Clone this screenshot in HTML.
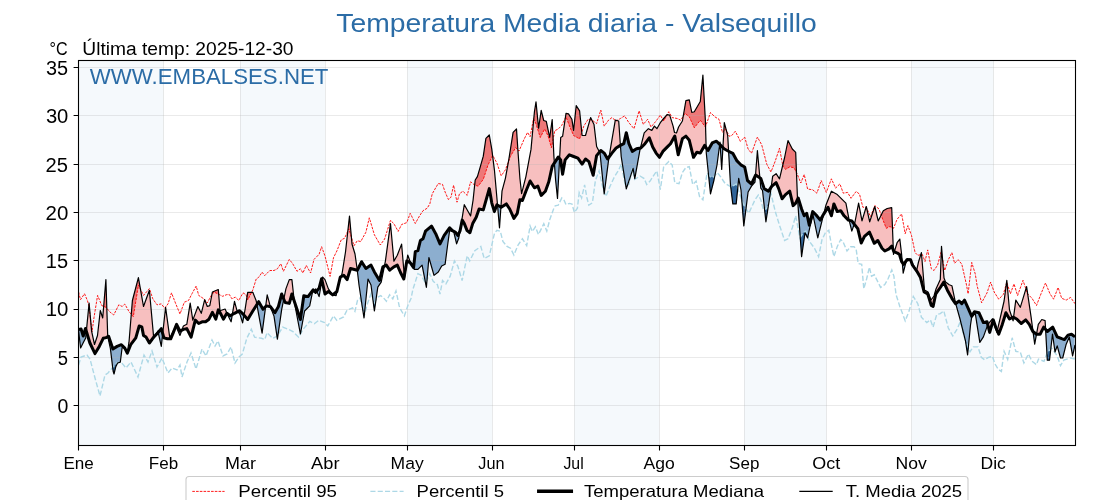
<!DOCTYPE html>
<html><head><meta charset="utf-8"><title>Temperatura Media diaria - Valsequillo</title><style>html,body{margin:0;padding:0;background:#fff;}body{width:1120px;height:500px;overflow:hidden;font-family:"Liberation Sans",sans-serif;}svg{display:block;will-change:transform;}</style></head><body>
<svg width="1120" height="500" viewBox="0 0 1120 500">
<rect width="1120" height="500" fill="#fff"/>
<rect x="78.6" y="60.5" width="84.9" height="385.0" fill="#f5f9fc"/>
<rect x="240.2" y="60.5" width="84.9" height="385.0" fill="#f5f9fc"/>
<rect x="407.3" y="60.5" width="84.9" height="385.0" fill="#f5f9fc"/>
<rect x="574.4" y="60.5" width="84.9" height="385.0" fill="#f5f9fc"/>
<rect x="744.2" y="60.5" width="82.2" height="385.0" fill="#f5f9fc"/>
<rect x="911.3" y="60.5" width="82.2" height="385.0" fill="#f5f9fc"/>
<path d="M86.1,330.5 86.6,328.7 87.1,323.6 87.6,318.5 88.1,313.3 88.6,308.2 89.1,303.1 89.6,308.7 90.1,314.3 90.6,319.9 91.1,325.5 91.6,331.1 92.1,333.4 92.6,335.7 93.1,338 93.6,340.3 94.1,342.7 94.6,344.2 95.1,342.7 95.6,341.2 96.1,339.7 96.6,338.2 97.1,336.7 97.6,334.6 98.1,330.1 98.6,325.7 99.1,321.2 99.6,316.8 100.1,312.3 100.6,311.4 101.1,313 101.6,314.6 102.1,316.1 102.6,317.7 103.1,313.2 103.6,307.2 104.1,301.2 104.6,295.1 105.1,289.1 105.6,283.1 106.1,285.8 106.6,301.5 107.1,317.2 107.6,332.9 108.1,336.5 L108.1,336.5 107.6,336.8 107.1,337 106.6,337.3 106.1,337.6 105.6,337.7 105.1,337.8 104.6,338 104.1,338.1 103.6,338.2 103.1,338.5 102.6,339.5 102.1,340.6 101.6,341.6 101.1,342.7 100.6,343.7 100.1,344.7 99.6,345.8 99.1,346.7 98.6,347.6 98.1,348.4 97.6,349.2 97.1,350.1 96.6,350.9 96.1,351.8 95.6,352.6 95.1,353.4 94.6,352.8 94.1,351.7 93.6,350.7 93.1,349.7 92.6,348.6 92.1,347.6 91.6,346.5 91.1,345.5 90.6,344.5 90.1,343.4 89.6,342 89.1,340.4 88.6,338.7 88.1,337.1 87.6,335.4 87.1,333.8 86.6,332.1 86.1,330.5ZM125.6,349.7 126.1,350.6 126.6,351.3 127.1,352.1 127.6,350.6 128.1,347.6 128.6,344.6 129.1,341 129.6,334.8 130.1,328.7 130.6,322.6 131.1,316.4 131.6,310.3 132.1,304.2 132.6,299.7 133.1,297.8 133.6,295.9 134.1,294 134.6,292.1 135.1,290.2 135.6,288.3 136.1,286.4 136.6,284.5 137.1,282.6 137.6,280.7 138.1,278.7 138.6,278.7 139.1,281.6 139.6,284.4 140.1,287.2 140.6,290.1 141.1,292.9 141.6,295.7 142.1,298.6 142.6,301.4 143.1,304.2 143.6,306.2 144.1,304.9 144.6,303.5 145.1,302.1 145.6,300.7 146.1,299.4 146.6,298 147.1,296.6 147.6,295.2 148.1,293.9 148.6,292.5 149.1,291.1 149.6,292.5 150.1,298 150.6,303.6 151.1,309.1 151.6,314.7 152.1,320.2 152.6,325.7 153.1,331.3 153.6,336.8 154.1,336.7 L154.1,336.7 153.6,337.2 153.1,337.9 152.6,338.6 152.1,339.3 151.6,340 151.1,340.7 150.6,341.4 150.1,342 149.6,342.7 149.1,342.5 148.6,341.6 148.1,340.7 147.6,339.9 147.1,339 146.6,338.1 146.1,337.3 145.6,336.8 145.1,336.5 144.6,336.1 144.1,335.8 143.6,335.5 143.1,333.4 142.6,330.9 142.1,328.4 141.6,326.8 141.1,326.7 140.6,326.5 140.1,326.3 139.6,326.1 139.1,326.3 138.6,328.1 138.1,329.9 137.6,331.6 137.1,333.4 136.6,335.1 136.1,336.9 135.6,338.2 135.1,338.8 134.6,339.5 134.1,340.2 133.6,340.8 133.1,341.5 132.6,342.2 132.1,342.8 131.6,343.5 131.1,344.2 130.6,344.9 130.1,346.2 129.6,347.4 129.1,348.7 128.6,349.9 128.1,351.2 127.6,352.4 127.1,352.8 126.6,351.8 126.1,350.8 125.6,349.7ZM154.6,336.2 155.1,335.6 155.6,334.8 156.1,334 156.6,333.2 157.1,332.4 157.6,331.6 158.1,332 158.6,331.9 L158.6,331.9 158.1,332.6 157.6,333.1 157.1,333.6 156.6,334.1 156.1,334.6 155.6,335.2 155.1,335.7 154.6,336.2ZM162.6,333.2 163.1,330 163.6,325.5 164.1,320.9 164.6,316.4 165.1,311.8 165.6,307.3 166.1,310.9 166.6,314.6 167.1,318.2 167.6,321.9 168.1,325.5 168.6,329.2 169.1,332.8 169.6,336.4 170.1,337.3 170.6,336.3 171.1,335.3 171.6,334.3 172.1,333.3 172.6,332.3 173.1,331.4 173.6,330.4 174.1,329.4 174.6,328.4 175.1,327.4 175.6,326.4 176.1,325.6 L176.1,325.6 175.6,326.8 175.1,328.1 174.6,329.3 174.1,330.6 173.6,331.8 173.1,333 172.6,334.2 172.1,335.4 171.6,336.6 171.1,337.8 170.6,338.8 170.1,338.8 169.6,338.8 169.1,338.8 168.6,338.8 168.1,338.8 167.6,338.8 167.1,338.7 166.6,338.6 166.1,338.5 165.6,338.3 165.1,338.2 164.6,338.1 164.1,338 163.6,336.8 163.1,335 162.6,333.2ZM181.6,330.3 182.1,329.6 182.6,328.2 183.1,326.8 183.6,325.9 184.1,325.7 184.6,325.4 185.1,325.2 185.6,324.9 186.1,324.7 186.6,324.4 187.1,322.4 187.6,319.3 188.1,316.2 188.6,313.1 189.1,310 189.6,306.8 190.1,303.7 190.6,305.7 191.1,309 191.6,312.3 192.1,315.5 192.6,318.8 193.1,319.3 193.6,318 194.1,316.6 194.6,315.3 195.1,314 195.6,312.6 196.1,311.3 196.6,310 197.1,308.6 197.6,307.3 198.1,306.9 198.6,307.9 199.1,308.9 199.6,309.9 200.1,310.9 200.6,311.9 201.1,312.9 201.6,312.1 202.1,310.1 202.6,308.1 203.1,306.1 203.6,304.1 204.1,302.1 204.6,300.1 205.1,300.7 205.6,302.1 206.1,303.4 206.6,304.7 207.1,306 207.6,306.4 208.1,306.2 208.6,306 209.1,305.9 209.6,305.7 210.1,304 210.6,301.4 211.1,298.8 211.6,296.2 212.1,293.6 212.6,291.9 213.1,291.7 213.6,291.5 214.1,291.3 214.6,291.1 215.1,290.9 215.6,290.6 216.1,290.4 216.6,290.2 217.1,290 217.6,289.8 218.1,289.6 218.6,293.2 219.1,299.5 219.6,305.7 220.1,310.7 220.6,310.5 221.1,310.3 221.6,310.2 222.1,310 222.6,309.8 223.1,309.7 223.6,309.5 224.1,309.3 224.6,309.2 225.1,309 225.6,310.2 226.1,311.3 226.6,312.5 227.1,313.5 L227.1,313.5 226.6,313.6 226.1,314.5 225.6,315.4 225.1,316.2 224.6,317.1 224.1,318 223.6,318.9 223.1,318.6 222.6,317.6 222.1,316.5 221.6,315.5 221.1,314.5 220.6,313.6 220.1,312.8 219.6,312 219.1,311.2 218.6,310.4 218.1,310.6 217.6,312.5 217.1,314.4 216.6,316.2 216.1,318.1 215.6,318.8 215.1,317.8 214.6,316.8 214.1,315.8 213.6,314.8 213.1,313.8 212.6,312.8 212.1,313 211.6,314 211.1,315 210.6,316 210.1,317 209.6,318 209.1,319 208.6,319.5 208.1,319.9 207.6,320.3 207.1,320.7 206.6,321 206.1,321.4 205.6,321.8 205.1,321.8 204.6,321.8 204.1,321.8 203.6,321.8 203.1,321.8 202.6,321.8 202.1,321.8 201.6,322.1 201.1,322.3 200.6,322.6 200.1,322.8 199.6,323.1 199.1,323.3 198.6,323.4 198.1,322.9 197.6,322.4 197.1,321.9 196.6,321.4 196.1,320.9 195.6,320.4 195.1,320.9 194.6,322.9 194.1,325 193.6,327 193.1,329 192.6,331 192.1,333.1 191.6,335.1 191.1,337.1 190.6,336.1 190.1,335.1 189.6,334.1 189.1,333.1 188.6,332.2 188.1,331.2 187.6,330.2 187.1,329.2 186.6,328.6 186.1,328.8 185.6,328.9 185.1,329 184.6,329.1 184.1,329.2 183.6,329.4 183.1,329.6 182.6,329.8 182.1,330.1 181.6,330.3ZM232.1,314.7 232.6,312.8 233.1,309.8 233.6,306.8 234.1,303.8 234.6,301.8 235.1,303.6 235.6,305.5 236.1,307.4 236.6,309.2 237.1,310.8 237.6,311.4 238.1,311.5 L238.1,311.5 237.6,311.7 237.1,312 236.6,312.2 236.1,312.5 235.6,312.7 235.1,313 234.6,313.2 234.1,313.5 233.6,313.8 233.1,314.1 232.6,314.4 232.1,314.7ZM243.6,314.6 244.1,314.7 244.6,312 245.1,309.3 245.6,306 246.1,302.8 246.6,299.5 247.1,296.2 247.6,293 248.1,292.3 248.6,292.3 249.1,292.3 249.6,292.3 250.1,292.3 250.6,292.3 251.1,292.3 251.6,292.3 252.1,292.3 252.6,292.3 253.1,293 253.6,294.3 254.1,295.6 254.6,296.8 255.1,298.1 255.6,299.3 256.1,300.6 256.6,303 257.1,304.2 L257.1,304.2 256.6,305 256.1,305.8 255.6,306.6 255.1,307.4 254.6,308.2 254.1,309 253.6,309.7 253.1,310.5 252.6,311.3 252.1,312.2 251.6,313 251.1,313.8 250.6,314.7 250.1,315.5 249.6,316.3 249.1,317.2 248.6,318 248.1,318.8 247.6,319.4 247.1,318.8 246.6,318.2 246.1,317.6 245.6,317 245.1,316.4 244.6,315.8 244.1,315.2 243.6,314.6ZM265.6,306.7 266.1,303.1 266.6,299.4 267.1,295.6 267.6,296.4 268.1,298.3 268.6,300.1 269.1,302 269.6,303.9 270.1,305.7 270.6,306.8 L270.6,306.8 270.1,306.7 269.6,306.6 269.1,306.5 268.6,306.4 268.1,306.3 267.6,306.2 267.1,306.1 266.6,305.9 266.1,306.2 265.6,306.7ZM283.6,298.8 284.1,297.6 284.6,295.2 285.1,292.8 285.6,290.4 286.1,288.4 286.6,287 287.1,285.6 287.6,284.2 288.1,282.9 288.6,281.5 289.1,280.1 289.6,279.6 290.1,279.6 290.6,279.6 291.1,279.6 291.6,279.6 292.1,281.4 292.6,286 293.1,290.6 293.6,295.2 294.1,299.8 294.6,302.1 L294.6,302.1 294.1,300.6 293.6,299.1 293.1,297.6 292.6,296.1 292.1,294.6 291.6,295.1 291.1,296.9 290.6,298.7 290.1,300.5 289.6,302.3 289.1,303.4 288.6,303.2 288.1,303.1 287.6,303 287.1,302.9 286.6,302.8 286.1,302.7 285.6,302.6 285.1,302.5 284.6,301.2 284.1,300 283.6,298.8ZM314.1,290.8 314.6,290.3 315.1,289.7 315.6,289 316.1,289.8 316.6,290.9 317.1,290.6 L317.1,290.6 316.6,291.2 316.1,291.8 315.6,292.2 315.1,291.7 314.6,291.2 314.1,290.8ZM321.6,278.7 322.1,279.3 322.6,277.1 323.1,277.6 323.6,278.1 324.1,278.7 324.6,279.2 325.1,279.9 325.6,281.2 326.1,282.6 326.6,284 327.1,285.3 327.6,286.7 328.1,288.1 328.6,289.2 329.1,289.9 329.6,290.6 330.1,291.3 330.6,292 331.1,292.7 331.6,293.4 332.1,294.1 332.6,294.8 333.1,294.6 L333.1,294.6 332.6,294.8 332.1,294.4 331.6,294 331.1,293.6 330.6,293.2 330.1,292.8 329.6,292.4 329.1,292.1 328.6,291.7 328.1,291.7 327.6,292.1 327.1,292.5 326.6,292.8 326.1,293.2 325.6,293.6 325.1,293.9 324.6,292.2 324.1,290 323.6,287.7 323.1,285.5 322.6,283.2 322.1,280.9 321.6,278.7ZM337.6,288.5 338.1,286.2 338.6,283.8 339.1,282.1 L339.1,282.1 338.6,284.2 338.1,286.4 337.6,288.5ZM341.1,276.6 341.6,275.2 342.1,273.4 342.6,270.2 343.1,267.1 343.6,263.9 344.1,260.8 344.6,257.7 345.1,254.5 345.6,251.1 346.1,246.6 346.6,242.1 347.1,237.6 347.6,233.1 348.1,228.6 348.6,224.1 349.1,219.6 349.6,217.1 350.1,222.7 350.6,228.3 351.1,233.9 351.6,239.5 352.1,244.3 352.6,246 353.1,247.7 353.6,249.3 354.1,251 354.6,252.7 355.1,254.7 355.6,258.2 356.1,261.7 356.6,265.2 357.1,268.9 357.6,269.6 L357.6,269.6 357.1,270.1 356.6,270 356.1,269.9 355.6,269.8 355.1,269.6 354.6,269.5 354.1,269.4 353.6,269.3 353.1,269.1 352.6,269 352.1,268.9 351.6,268.8 351.1,268.6 350.6,268.5 350.1,269.8 349.6,271.4 349.1,273.1 348.6,274.7 348.1,276.3 347.6,278 347.1,279.6 346.6,279 346.1,278.3 345.6,277.7 345.1,277.1 344.6,276.4 344.1,275.8 343.6,275.4 343.1,275.6 342.6,275.9 342.1,276.1 341.6,276.4 341.1,276.6ZM384.1,266.2 384.6,265.1 385.1,262.6 385.6,259.6 386.1,256 386.6,252.3 387.1,248.6 387.6,245 388.1,241.3 388.6,237.6 389.1,234 389.6,230.3 390.1,226.6 390.6,224.8 391.1,230.3 391.6,235.8 392.1,241.3 392.6,246.8 393.1,252.3 393.6,257.8 394.1,260.8 394.6,259.9 395.1,259 395.6,258.1 396.1,257.3 396.6,256.4 397.1,255.5 397.6,254.4 398.1,253.1 398.6,251.8 399.1,250.6 399.6,249.3 400.1,248 400.6,246.7 401.1,245.4 401.6,244.1 402.1,249.9 402.6,255.8 403.1,261.6 403.6,267.5 404.1,273.3 404.6,274.2 L404.6,274.2 404.1,277.2 403.6,278.6 403.1,277.6 402.6,276.6 402.1,275.7 401.6,274.7 401.1,273.7 400.6,272.7 400.1,271.6 399.6,270.4 399.1,269.3 398.6,268.1 398.1,267 397.6,265.8 397.1,265.2 396.6,265.4 396.1,265.7 395.6,265.9 395.1,266.2 394.6,266.4 394.1,266.7 393.6,267 393.1,267.4 392.6,267.9 392.1,268.3 391.6,268.7 391.1,269.1 390.6,269.5 390.1,269.9 389.6,270.1 389.1,269.3 388.6,268.6 388.1,267.8 387.6,267.1 387.1,266.3 386.6,265.6 386.1,265.2 385.6,265.4 385.1,265.7 384.6,265.9 384.1,266.2ZM406.6,262.1 407.1,259.3 407.6,255.7 408.1,256.1 408.6,257.5 409.1,258.8 409.6,260.2 410.1,261.6 410.6,262.9 411.1,264 L411.1,264 410.6,263.2 410.1,262.6 409.6,262.3 409.1,262.1 408.6,261.8 408.1,261.6 407.6,261.3 407.1,261.1 406.6,262.1ZM459.6,231.8 460.1,230.2 460.6,227.4 461.1,224.5 461.6,221.6 462.1,218.4 462.6,215.3 463.1,212.2 463.6,209.1 464.1,205.9 464.6,205.2 465.1,206.1 465.6,207 466.1,207.9 466.6,208.8 467.1,209.7 467.6,210.6 468.1,211.5 468.6,212.4 469.1,213.3 469.6,214.2 470.1,215 470.6,215.9 471.1,212.7 471.6,209.5 472.1,206.4 472.6,203.2 473.1,200 473.6,195.2 474.1,190.5 474.6,185.7 475.1,181 475.6,179.4 476.1,178.6 476.6,177.8 477.1,177.1 477.6,175.9 478.1,174.2 478.6,172.5 479.1,170.8 479.6,169.1 480.1,167.4 480.6,165.6 481.1,163.9 481.6,162.1 482.1,160.4 482.6,158.6 483.1,156.9 483.6,154.1 484.1,150.7 484.6,147.3 485.1,143.9 485.6,140.5 486.1,138.2 486.6,137.7 487.1,137.2 487.6,136.7 488.1,136.2 488.6,135.7 489.1,135.2 489.6,136.7 490.1,139.6 490.6,142.5 491.1,145.4 491.6,148.2 492.1,151.8 492.6,155.7 493.1,159.6 493.6,163.5 494.1,167.4 494.6,172 495.1,177.6 495.6,183.1 496.1,188.9 496.6,194.6 497.1,200.3 497.6,205.2 L497.6,205.2 497.1,204.9 496.6,205.6 496.1,207 495.6,208.3 495.1,209.7 494.6,211.1 494.1,210.6 493.6,209 493.1,207.4 492.6,205.7 492.1,204.1 491.6,201.9 491.1,199 490.6,196.1 490.1,193.2 489.6,190.3 489.1,189.3 488.6,191.1 488.1,192.9 487.6,194.6 487.1,196.4 486.6,198.2 486.1,200 485.6,201.7 485.1,203.5 484.6,205.3 484.1,207.1 483.6,208.8 483.1,209.9 482.6,209.8 482.1,209.6 481.6,209.5 481.1,209.4 480.6,209.3 480.1,209.2 479.6,209.1 479.1,209 478.6,210.4 478.1,211.9 477.6,213.3 477.1,214.7 476.6,216.2 476.1,217.5 475.6,218.4 475.1,219.3 474.6,220.2 474.1,221.1 473.6,222 473.1,222.9 472.6,223.9 472.1,225.5 471.6,227.2 471.1,228.8 470.6,230.4 470.1,232 469.6,232.5 469.1,232.1 468.6,231.7 468.1,231.3 467.6,231 467.1,230.6 466.6,229.3 466.1,228.1 465.6,226.9 465.1,225.6 464.6,224.4 464.1,223.3 463.6,222.4 463.1,221.6 462.6,220.8 462.1,220.6 461.6,223.1 461.1,225.6 460.6,228.1 460.1,230.6 459.6,231.8ZM500.6,207 501.1,204.4 501.6,197.1 502.1,190.8 502.6,188.9 503.1,187 503.6,185.1 504.1,183.2 504.6,181.3 505.1,179.4 505.6,177.2 506.1,174.4 506.6,171.7 507.1,168.9 507.6,166.2 508.1,163.4 508.6,160.7 509.1,157.7 509.6,154.5 510.1,151.4 510.6,148.2 511.1,145.1 511.6,141.9 512.1,138.7 512.6,135.6 513.1,132.4 513.6,131.9 514.1,131.4 514.6,130.9 515.1,130.4 515.6,129.9 516.1,129.4 516.6,130.5 517.1,138 517.6,145.5 518.1,153 518.6,160.1 519.1,167.1 519.6,174.1 520.1,180.1 520.6,184.6 521.1,189.2 521.6,193.7 522.1,191.7 522.6,189.7 523.1,187.7 523.6,185.7 524.1,183.8 524.6,181.8 525.1,179.8 525.6,177.8 526.1,175.5 526.6,172.9 527.1,170.2 527.6,167.5 528.1,164.9 528.6,162.2 529.1,159.5 529.6,156.9 530.1,154.2 530.6,151.5 531.1,148.3 531.6,142.8 532.1,137.3 532.6,131.8 533.1,126.3 533.6,120.8 534.1,115.3 534.6,110.7 535.1,107.5 535.6,104.3 536.1,102.8 536.6,107.9 537.1,113 537.6,118 538.1,123.1 538.6,128.2 539.1,124.8 539.6,121.3 540.1,117.9 540.6,114.4 541.1,111 541.6,111.9 542.1,114 542.6,116 543.1,118.1 543.6,120.1 544.1,120.6 544.6,120.8 545.1,121 545.6,121.2 546.1,121.3 546.6,122.8 547.1,125.2 547.6,127.6 548.1,129.9 548.6,132.3 549.1,134.7 549.6,137 550.1,134.7 550.6,131.1 551.1,127.5 551.6,124 552.1,120.4 552.6,128.3 553.1,139 553.6,149.8 554.1,159 554.6,162.7 L554.6,162.7 554.1,163.5 553.6,164.2 553.1,165 552.6,165.8 552.1,166.9 551.6,169.1 551.1,171.4 550.6,173.6 550.1,175.9 549.6,178.2 549.1,180.4 548.6,182.4 548.1,183.7 547.6,185.1 547.1,186.5 546.6,187.9 546.1,189.3 545.6,190.6 545.1,191.5 544.6,192 544.1,192.5 543.6,193 543.1,193.5 542.6,194 542.1,194.5 541.6,195 541.1,195.1 540.6,193.8 540.1,192.4 539.6,191 539.1,189.7 538.6,188.3 538.1,186.9 537.6,186.2 537.1,186.4 536.6,186.7 536.1,186.9 535.6,187.2 535.1,187.4 534.6,187.7 534.1,187.3 533.6,186.5 533.1,185.7 532.6,185 532.1,184.2 531.6,183.4 531.1,182.6 530.6,181.8 530.1,181 529.6,182.2 529.1,183.4 528.6,184.6 528.1,185.9 527.6,187.1 527.1,188.3 526.6,189.5 526.1,190.7 525.6,192 525.1,193.3 524.6,194.7 524.1,196 523.6,197.3 523.1,198.6 522.6,200 522.1,200.4 521.6,200.2 521.1,200.1 520.6,199.9 520.1,199.8 519.6,201.3 519.1,203.9 518.6,206.5 518.1,209.1 517.6,211.7 517.1,213.6 516.6,214.3 516.1,215.1 515.6,215.8 515.1,216.6 514.6,217.3 514.1,218.1 513.6,217.7 513.1,216.6 512.6,215.5 512.1,214.4 511.6,213.3 511.1,212.1 510.6,211 510.1,209.9 509.6,208.9 509.1,208.1 508.6,207.4 508.1,206.6 507.6,205.9 507.1,205.1 506.6,204.4 506.1,204 505.6,204.4 505.1,204.7 504.6,205 504.1,205.4 503.6,205.7 503.1,206 502.6,206.4 502.1,206.7 501.6,207 501.1,207.2 500.6,207ZM559.1,158.1 559.6,158.5 560.1,148.9 560.6,139.4 561.1,137.2 561.6,136.9 562.1,136.6 562.6,136.3 563.1,132.9 563.6,129.6 564.1,126.2 564.6,122.8 565.1,119.5 565.6,116.1 566.1,113.4 566.6,113.5 567.1,113.6 567.6,113.7 568.1,113.8 568.6,114.1 569.1,114.9 569.6,115.6 570.1,116.4 570.6,117.2 571.1,118 571.6,118.8 572.1,120.6 572.6,123.9 573.1,127.1 573.6,130.4 574.1,125.7 574.6,120.9 575.1,116.2 575.6,111.4 576.1,106.7 576.6,106.3 577.1,107 577.6,107.8 578.1,108.5 578.6,109.3 579.1,110 579.6,110.8 580.1,115.7 580.6,120.7 581.1,125.6 581.6,130.6 582.1,135.5 582.6,135.5 583.1,135.5 583.6,135.5 584.1,135.5 584.6,135.5 585.1,135.5 585.6,135.1 586.1,133.4 586.6,131.6 587.1,129.9 587.6,128.1 588.1,126.4 588.6,124.6 589.1,122.9 589.6,121.1 590.1,119.4 590.6,117.6 591.1,118.6 591.6,119.6 592.1,120.6 592.6,121.6 593.1,122.6 593.6,123.6 594.1,125.3 594.6,129.5 595.1,133.8 595.6,138 596.1,142.3 596.6,146.5 597.1,147.5 597.6,148.4 598.1,149.4 598.6,150.3 599.1,151.3 599.6,152 L599.6,152 599.1,152.6 598.6,153.2 598.1,153.8 597.6,154.4 597.1,155 596.6,155.6 596.1,158.5 595.6,161.4 595.1,164.2 594.6,167.1 594.1,170 593.6,172.9 593.1,174.9 592.6,173.3 592.1,171.7 591.6,170.1 591.1,168.6 590.6,167 590.1,165.4 589.6,163.8 589.1,162.2 588.6,161.4 588.1,161 587.6,160.6 587.1,160.2 586.6,159.8 586.1,159.5 585.6,159.1 585.1,159.6 584.6,160.3 584.1,161.1 583.6,161.8 583.1,162.6 582.6,163.3 582.1,164.1 581.6,163.4 581.1,162.7 580.6,162 580.1,161.3 579.6,160.6 579.1,159.9 578.6,159.2 578.1,158.5 577.6,158.1 577.1,157.9 576.6,157.7 576.1,157.5 575.6,157.3 575.1,157.1 574.6,156.9 574.1,156.7 573.6,156.5 573.1,156.3 572.6,156.1 572.1,155.9 571.6,155.7 571.1,155.5 570.6,155.3 570.1,155.1 569.6,154.9 569.1,155.2 568.6,155.7 568.1,156.3 567.6,156.9 567.1,157.5 566.6,158.1 566.1,158.7 565.6,159.3 565.1,159.9 564.6,162.8 564.1,165.7 563.6,168.5 563.1,171.4 562.6,174.3 562.1,170.5 561.6,166.8 561.1,163 560.6,159.9 560.1,159.3 559.6,158.7 559.1,158.1ZM609.1,156.9 609.6,154 610.1,150.9 610.6,147.8 611.1,144.8 611.6,141.9 612.1,139 612.6,136 613.1,133.1 613.6,130.2 614.1,127.2 614.6,124.3 615.1,121.4 615.6,120.3 616.1,120.4 616.6,120.5 617.1,120.6 617.6,120.7 618.1,120.9 618.6,121 619.1,126.7 619.6,133.8 620.1,140.9 620.6,145.3 L620.6,145.3 620.1,145.6 619.6,145.9 619.1,146.2 618.6,146.5 618.1,146.8 617.6,147.1 617.1,147.4 616.6,147.7 616.1,148 615.6,148.6 615.1,149.2 614.6,149.8 614.1,150.4 613.6,151 613.1,151.6 612.6,152.2 612.1,152.9 611.6,153.5 611.1,154.2 610.6,154.9 610.1,155.6 609.6,156.3 609.1,156.9ZM640.1,148.1 640.6,147.3 641.1,145.3 641.6,143.3 642.1,141.3 642.6,139.3 643.1,137.3 643.6,135.3 644.1,133.3 644.6,132.5 645.1,132 645.6,131.5 646.1,131 646.6,130.5 647.1,130 647.6,129.5 648.1,129 648.6,128.8 649.1,129.1 649.6,129.3 650.1,129.6 650.6,129.8 651.1,130.1 651.6,130.3 652.1,129.9 652.6,129.1 653.1,128.2 653.6,127.4 654.1,126.6 654.6,126.3 655.1,126.8 655.6,127.3 656.1,127.9 656.6,128.4 657.1,128.3 657.6,127.5 658.1,126.6 658.6,125.7 659.1,124.8 659.6,123.9 660.1,123.1 660.6,122.3 661.1,121.7 661.6,121.1 662.1,120.5 662.6,119.9 663.1,119.2 663.6,118.6 664.1,118 664.6,117.5 665.1,116.9 665.6,116.3 666.1,115.7 666.6,115.2 667.1,114.6 667.6,114.7 668.1,114.8 668.6,114.9 669.1,115 669.6,115.1 670.1,116.4 670.6,118 671.1,119.6 671.6,121.2 672.1,122.9 672.6,124.5 673.1,126.1 673.6,128.4 674.1,130.7 674.6,132.5 675.1,132.7 675.6,132.8 676.1,132.9 676.6,132.7 677.1,131.3 677.6,129.9 678.1,128.4 678.6,127 679.1,126.2 679.6,125.4 680.1,124.6 680.6,123.8 681.1,123.1 681.6,122.3 682.1,121.5 682.6,119.8 683.1,116.9 683.6,114 684.1,111.1 684.6,108.2 685.1,105.3 685.6,102.3 686.1,100.6 686.6,100.4 687.1,100.3 687.6,100.2 688.1,100.1 688.6,100 689.1,99.8 689.6,101.3 690.1,103.9 690.6,106.4 691.1,108.9 691.6,111.5 692.1,112.4 692.6,112.2 693.1,112.1 693.6,111.9 694.1,111.8 694.6,111.2 695.1,110.3 695.6,109.5 696.1,108.6 696.6,107.8 697.1,106.9 697.6,106.1 698.1,105.2 698.6,104.4 699.1,103.5 699.6,102.7 700.1,101.8 700.6,98.5 701.1,93.4 701.6,88.3 702.1,83.2 702.6,78.1 703.1,78.8 703.6,88 704.1,97.1 704.6,106.3 705.1,115.5 705.6,128.2 706.1,146.1 706.6,148.4 L706.6,148.4 706.1,147.7 705.6,146.9 705.1,146.2 704.6,145.4 704.1,146.3 703.6,147.2 703.1,148.1 702.6,149 702.1,149.9 701.6,150.8 701.1,151.7 700.6,152.6 700.1,153 699.6,152.9 699.1,152.8 698.6,152.7 698.1,152.5 697.6,152.4 697.1,152.3 696.6,152.6 696.1,153.4 695.6,154.1 695.1,154.9 694.6,155.6 694.1,156.4 693.6,157.1 693.1,155.7 692.6,153.7 692.1,151.6 691.6,149.6 691.1,147.6 690.6,145.6 690.1,143.5 689.6,141.5 689.1,140.1 688.6,139.4 688.1,138.8 687.6,138.2 687.1,137.6 686.6,137 686.1,136.3 685.6,136.3 685.1,136.7 684.6,137 684.1,137.4 683.6,137.7 683.1,138.1 682.6,138.5 682.1,139.8 681.6,141.7 681.1,143.6 680.6,145.5 680.1,147.5 679.6,149.4 679.1,151.3 678.6,153.3 678.1,154.2 677.6,151.5 677.1,148.8 676.6,146 676.1,143.3 675.6,140.5 675.1,137.8 674.6,136.5 674.1,137.3 673.6,138.2 673.1,139.1 672.6,140 672.1,140.9 671.6,141.8 671.1,142.6 670.6,143.5 670.1,144.1 669.6,144.6 669.1,145.1 668.6,145.6 668.1,146.1 667.6,146.6 667.1,147.1 666.6,147.6 666.1,148.1 665.6,148.6 665.1,149.1 664.6,149.7 664.1,150.2 663.6,150.7 663.1,151.2 662.6,151.9 662.1,152.8 661.6,153.7 661.1,154.5 660.6,155.4 660.1,156.3 659.6,157.1 659.1,156.8 658.6,156.2 658.1,155.6 657.6,155 657.1,154.3 656.6,153.7 656.1,153.1 655.6,152.2 655.1,151.3 654.6,150.5 654.1,149.6 653.6,148.7 653.1,147.8 652.6,146.8 652.1,145.5 651.6,144.1 651.1,142.7 650.6,141.4 650.1,140 649.6,138.6 649.1,138.1 648.6,138.8 648.1,139.4 647.6,140.1 647.1,140.8 646.6,141.5 646.1,142.2 645.6,142.9 645.1,143.6 644.6,144.1 644.1,144.6 643.6,145.1 643.1,145.6 642.6,146.2 642.1,146.7 641.6,147.2 641.1,147.7 640.6,148 640.1,148.1ZM719.6,144.3 720.1,143.8 720.6,145.3 L720.6,145.3 720.1,144.8 719.6,144.3ZM722.6,147.3 723.1,144.3 723.6,135.3 724.1,126.3 724.6,123.8 725.1,125.7 725.6,127.6 726.1,129.4 726.6,131.3 727.1,133.2 727.6,135 728.1,142.5 728.6,151.3 L728.6,151.3 728.1,151 727.6,150.8 727.1,150.5 726.6,150.2 726.1,149.9 725.6,149.6 725.1,149.4 724.6,149.1 724.1,148.8 723.6,148.3 723.1,147.8 722.6,147.3ZM755.1,176.3 755.6,174.2 756.1,167.7 756.6,161.1 757.1,154.6 757.6,152.9 758.1,158.4 758.6,163.9 759.1,169.4 759.6,174.9 760.1,177.9 L760.1,177.9 759.6,177.6 759.1,177.3 758.6,176.9 758.1,176.6 757.6,176.3 757.1,175.9 756.6,175.6 756.1,175.3 755.6,175.2 755.1,176.3ZM771.1,187.3 771.6,184.2 772.1,180.6 772.6,176.9 773.1,175.9 773.6,175.5 774.1,175.2 774.6,174.8 775.1,174.4 775.6,174.1 776.1,173.7 776.6,174.4 777.1,175.2 777.6,176 778.1,176.7 778.6,177.5 779.1,178.2 779.6,178.4 780.1,176.3 780.6,174.2 781.1,172.1 781.6,170 782.1,167.9 782.6,165.9 783.1,163.8 783.6,161.7 784.1,159.6 784.6,157.5 785.1,155 785.6,152.5 786.1,150 786.6,147.5 787.1,145 787.6,142.5 788.1,140.7 788.6,141.7 789.1,142.7 789.6,143.7 790.1,144.7 790.6,145.6 791.1,146.6 791.6,147.6 792.1,148.6 792.6,149.3 793.1,149.8 793.6,150.3 794.1,150.8 794.6,151.3 795.1,151.8 795.6,152.3 796.1,162.8 796.6,175.8 797.1,188.8 797.6,199.2 L797.6,199.2 797.1,200.2 796.6,201.3 796.1,202.3 795.6,203.2 795.1,203.7 794.6,204.2 794.1,204.6 793.6,205.1 793.1,205.6 792.6,203.5 792.1,201.4 791.6,199.2 791.1,197.1 790.6,195 790.1,192.9 789.6,191.3 789.1,191.7 788.6,192.1 788.1,192.5 787.6,192.9 787.1,193.3 786.6,193.7 786.1,194.1 785.6,194.5 785.1,195.1 784.6,195.7 784.1,196.3 783.6,196.9 783.1,197.6 782.6,198.2 782.1,198.8 781.6,197.3 781.1,195.8 780.6,194.3 780.1,192.8 779.6,191.3 779.1,189.8 778.6,188.4 778.1,187.2 777.6,186.1 777.1,185 776.6,183.8 776.1,182.7 775.6,183.1 775.1,183.5 774.6,183.9 774.1,184.3 773.6,184.7 773.1,185.1 772.6,185.5 772.1,185.9 771.6,186.5 771.1,187.3ZM823.6,214.3 824.1,212.6 824.6,210.6 825.1,208.6 825.6,206.6 826.1,204.7 826.6,203.5 827.1,202.2 827.6,200.9 828.1,199.6 828.6,198.4 829.1,197.1 829.6,195.8 830.1,194.5 830.6,193.2 831.1,192 831.6,191.3 832.1,191.6 832.6,191.9 833.1,192.2 833.6,192.5 834.1,192.8 834.6,193 835.1,193.3 835.6,193.6 836.1,193.9 836.6,194.2 837.1,194.5 837.6,194.9 838.1,195.4 838.6,195.9 839.1,196.4 839.6,196.9 840.1,197.4 840.6,197.9 841.1,198.4 841.6,198.9 842.1,199.3 842.6,199.8 843.1,200.3 843.6,200.8 844.1,201.3 844.6,201.8 845.1,202.3 845.6,202.8 846.1,204.1 846.6,206.8 847.1,209.4 847.6,212 848.1,214.6 848.6,217.2 849.1,219.9 849.6,220.4 L849.6,220.4 849.1,220.3 848.6,220.1 848.1,219.8 847.6,219.3 847.1,218.8 846.6,218.3 846.1,217.8 845.6,217.3 845.1,216.8 844.6,216.3 844.1,215.8 843.6,215.1 843.1,214.3 842.6,213.5 842.1,212.8 841.6,212 841.1,211.3 840.6,210.7 840.1,210.9 839.6,211 839.1,211.1 838.6,211.3 838.1,211.4 837.6,211.5 837.1,211.1 836.6,210 836.1,208.9 835.6,207.8 835.1,206.6 834.6,205.5 834.1,204.4 833.6,205.3 833.1,207.7 832.6,210.1 832.1,212.5 831.6,214.8 831.1,215.1 830.6,213.8 830.1,212.6 829.6,211.3 829.1,210.1 828.6,208.8 828.1,207.6 827.6,207.9 827.1,208.7 826.6,209.5 826.1,210.3 825.6,211.1 825.1,211.9 824.6,212.7 824.1,213.5 823.6,214.3ZM854.1,223.9 854.6,223.1 855.1,221.5 855.6,218.8 856.1,216.2 856.6,213.6 857.1,211 857.6,208.3 858.1,205.7 858.6,203.1 859.1,205.7 859.6,208.3 860.1,211 860.6,213.6 861.1,216.2 861.6,218.8 862.1,220.6 862.6,218.9 863.1,217.2 863.6,215.5 864.1,213.9 864.6,212.2 865.1,210.5 865.6,208.8 866.1,207.2 866.6,207.9 867.1,210.1 867.6,212.4 868.1,214.6 868.6,216.9 869.1,219.1 869.6,221.3 870.1,220.6 870.6,219.1 871.1,217.6 871.6,216.1 872.1,214.6 872.6,213.1 873.1,211.6 873.6,210.1 874.1,208.6 874.6,207.1 875.1,207.8 875.6,209.9 876.1,212 876.6,214.1 877.1,216.2 877.6,218.4 878.1,220.5 878.6,220.1 879.1,219.1 879.6,218.1 880.1,217.1 880.6,216.1 881.1,215.1 881.6,214.1 882.1,213.1 882.6,212.1 883.1,211.1 883.6,210.5 884.1,210.2 884.6,210 885.1,209.7 885.6,209.4 886.1,209.1 886.6,208.8 887.1,208.6 887.6,208.4 888.1,208.3 888.6,208.2 889.1,208.1 889.6,208 890.1,207.9 890.6,207.8 891.1,207.7 891.6,207.6 892.1,218 892.6,231 893.1,244 893.6,250.9 L893.6,250.9 893.1,249.6 892.6,248.2 892.1,246.9 891.6,246.3 891.1,246.8 890.6,247.3 890.1,247.8 889.6,248.3 889.1,248.8 888.6,249.1 888.1,249.3 887.6,249.6 887.1,249.8 886.6,250.1 886.1,250.3 885.6,250.6 885.1,250.8 884.6,250.8 884.1,250.3 883.6,249.8 883.1,249.3 882.6,248.8 882.1,248.3 881.6,247.5 881.1,246.6 880.6,245.6 880.1,244.7 879.6,243.8 879.1,242.9 878.6,242 878.1,241.1 877.6,240.7 877.1,241.1 876.6,241.5 876.1,241.9 875.6,242.3 875.1,242.7 874.6,243.1 874.1,242.8 873.6,241.7 873.1,240.6 872.6,239.4 872.1,238.3 871.6,237.1 871.1,236 870.6,234.8 870.1,233.7 869.6,232.6 869.1,232.4 868.6,232.8 868.1,233.2 867.6,233.6 867.1,234.1 866.6,234.5 866.1,234.9 865.6,235.4 865.1,235.8 864.6,236.2 864.1,237.1 863.6,238.1 863.1,239.1 862.6,240.2 862.1,241.2 861.6,242.2 861.1,242.6 860.6,240.5 860.1,238.3 859.6,236.2 859.1,234.1 858.6,232 858.1,229.9 857.6,228.3 857.1,227.7 856.6,227.1 856.1,226.5 855.6,225.8 855.1,225.2 854.6,224.6 854.1,223.9ZM894.1,251.8 894.6,250.8 895.1,249.2 895.6,247.6 896.1,245.9 896.6,244.3 897.1,242.7 897.6,242 898.1,241.4 898.6,240.7 899.1,240 899.6,239.4 900.1,241.7 900.6,245.9 901.1,250.2 901.6,254.4 902.1,260.3 902.6,262.8 L902.6,262.8 902.1,262.2 901.6,261.5 901.1,259.8 900.6,258.2 900.1,256.5 899.6,254.8 899.1,254.2 898.6,253.9 898.1,253.6 897.6,253.2 897.1,253 896.6,252.8 896.1,252.6 895.6,252.4 895.1,252.2 894.6,252 894.1,251.8ZM909.1,259.6 909.6,259.3 910.1,259.2 910.6,259.7 L910.6,259.7 910.1,259.7 909.6,259.6 909.1,259.6ZM910.6,259.7 911.1,260.9 911.6,261.8 912.1,262.7 912.6,263.6 913.1,264.4 913.6,265.3 914.1,266.2 914.6,267.2 915.1,268.2 915.6,269.2 916.1,270.2 L916.1,270.2 915.6,269.5 915.1,268.8 914.6,268.1 914.1,267.4 913.6,266.7 913.1,266 912.6,265.3 912.1,264.1 911.6,262.6 911.1,261.2 910.6,259.7ZM916.1,270.2 916.6,270.5 917.1,268.3 917.6,266 918.1,263.8 918.6,261.7 919.1,260.1 919.6,258.4 920.1,256.8 920.6,255.2 921.1,253.6 921.6,255 922.1,261 922.6,267.1 923.1,273.1 923.6,279.1 924.1,285.2 924.6,290.1 925.1,290.3 925.6,290.6 926.1,290.9 926.6,291.2 927.1,291.5 927.6,291.8 928.1,292.3 928.6,293.6 929.1,294.9 929.6,296.3 930.1,297.6 930.6,298.9 931.1,299.9 931.6,299.2 932.1,298.5 932.6,297.9 933.1,297.2 933.6,296.5 934.1,295.6 934.6,293.9 935.1,292.1 935.6,290.4 936.1,288.8 936.6,287.7 937.1,286.5 937.6,285.4 938.1,284.3 938.6,283.2 939.1,282.1 939.6,281 940.1,279.8 940.6,271.1 941.1,257.3 941.6,247.6 942.1,253.9 942.6,260.2 943.1,266.6 943.6,272.9 944.1,278.3 944.6,279.5 945.1,280.8 945.6,282.1 946.1,282.5 946.6,282.9 947.1,283.2 947.6,283.6 948.1,284 948.6,284.4 949.1,284.7 949.6,284.9 950.1,285.1 950.6,285.3 951.1,285.4 951.6,285.6 952.1,286.7 952.6,289 953.1,291.4 953.6,293.8 954.1,296.2 954.6,298.5 955.1,300.9 955.6,303.2 956.1,303.2 L956.1,303.2 955.6,303.6 955.1,303.1 954.6,302.4 954.1,301.6 953.6,300.9 953.1,300.1 952.6,299.4 952.1,298.6 951.6,297.8 951.1,296.9 950.6,296 950.1,295.1 949.6,294.2 949.1,293.3 948.6,292.4 948.1,291.5 947.6,290.6 947.1,289.5 946.6,288.4 946.1,287.3 945.6,286.2 945.1,285 944.6,283.9 944.1,282.8 943.6,282.4 943.1,283.2 942.6,284 942.1,284.7 941.6,285.5 941.1,286.3 940.6,287 940.1,287.8 939.6,288.5 939.1,289.2 938.6,289.9 938.1,290.6 937.6,291.3 937.1,292 936.6,292.7 936.1,293.4 935.6,294.7 935.1,297.1 934.6,299.4 934.1,301.7 933.6,304.1 933.1,306.4 932.6,306.1 932.1,305.9 931.6,305.7 931.1,304.9 930.6,303.2 930.1,301.6 929.6,300 929.1,298.4 928.6,296.7 928.1,295.1 927.6,293.8 927.1,293.5 926.6,293.2 926.1,293 925.6,292.8 925.1,292.5 924.6,292.2 924.1,292 923.6,290 923.1,288 922.6,286 922.1,284 921.6,282 921.1,280 920.6,278 920.1,276.9 919.6,276 919.1,275.2 918.6,274.3 918.1,273.4 917.6,272.5 917.1,271.7 916.6,270.9 916.1,270.2ZM987.6,324.1 988.1,324.2 988.6,323.6 989.1,323 989.6,322.4 990.1,321.8 990.6,321.2 991.1,320.6 991.6,320 992.1,319.4 992.6,319.6 993.1,320.6 L993.1,320.6 992.6,322.3 992.1,324.1 991.6,325.8 991.1,327.5 990.6,329.3 990.1,331 989.6,332 989.1,330 988.6,328 988.1,326.1 987.6,324.1ZM997.1,330.5 997.6,329.3 998.1,327.2 998.6,325 999.1,322.8 999.6,320.6 1000.1,318.4 1000.6,316.3 1001.1,314.1 1001.6,311.9 1002.1,309.7 1002.6,307.5 1003.1,305.4 1003.6,303.2 1004.1,301 1004.6,297.2 1005.1,293.3 1005.6,289.5 1006.1,285.7 1006.6,281.8 1007.1,283.6 1007.6,289.1 1008.1,294.6 1008.6,300.1 1009.1,305.6 1009.6,310.3 1010.1,311.8 1010.6,313.3 1011.1,314.8 1011.6,316.3 1012.1,317.7 L1012.1,317.7 1011.6,317.9 1011.1,318.2 1010.6,318.4 1010.1,318.7 1009.6,318.9 1009.1,318.3 1008.6,317.4 1008.1,316.6 1007.6,315.7 1007.1,314.8 1006.6,313.9 1006.1,313.1 1005.6,313.7 1005.1,315.3 1004.6,316.9 1004.1,318.5 1003.6,320.2 1003.1,321.8 1002.6,323.4 1002.1,324.9 1001.6,326.3 1001.1,327.7 1000.6,329 1000.1,330.4 999.6,331.8 999.1,333.1 998.6,334 998.1,332.8 997.6,331.7 997.1,330.5ZM1013.1,317.2 1013.6,317 1014.1,313.1 1014.6,309.3 1015.1,305.5 1015.6,301.6 1016.1,300.6 1016.6,301.4 1017.1,302.2 1017.6,303 1018.1,303.8 1018.6,304.6 1019.1,305.4 1019.6,306.2 1020.1,307 1020.6,306.3 1021.1,304.7 1021.6,303 1022.1,301.4 1022.6,299.7 1023.1,298.1 1023.6,296.5 1024.1,294.8 1024.6,293.2 1025.1,291.5 1025.6,289.9 1026.1,288.2 1026.6,286.6 1027.1,290 1027.6,293.4 1028.1,296.8 1028.6,300.2 1029.1,303.6 1029.6,307 1030.1,310.4 1030.6,313.8 1031.1,317.2 1031.6,320.9 1032.1,324.7 1032.6,328.4 1033.1,331.6 L1033.1,331.6 1032.6,330.9 1032.1,329.9 1031.6,328.9 1031.1,327.9 1030.6,327 1030.1,326 1029.6,325 1029.1,324.1 1028.6,323.5 1028.1,322.9 1027.6,322.3 1027.1,321.6 1026.6,321 1026.1,320.4 1025.6,320 1025.1,320.4 1024.6,320.8 1024.1,321.2 1023.6,321.6 1023.1,322 1022.6,322.4 1022.1,322.8 1021.6,323.2 1021.1,323.4 1020.6,322.9 1020.1,322.4 1019.6,321.9 1019.1,321.4 1018.6,320.9 1018.1,320.4 1017.6,319.9 1017.1,319.4 1016.6,318.9 1016.1,318.7 1015.6,318.4 1015.1,318.2 1014.6,317.9 1014.1,317.7 1013.6,317.4 1013.1,317.2ZM1036.1,333.9 1036.6,333.7 1037.1,331 1037.6,328.2 1038.1,325.5 1038.6,324 1039.1,323.3 1039.6,322.6 1040.1,321.9 1040.6,321.2 1041.1,320.5 1041.6,319.8 1042.1,319.6 1042.6,319.8 1043.1,319.9 1043.6,320.1 1044.1,320.3 1044.6,320.4 1045.1,320.6 1045.6,329.4 L1045.6,329.4 1045.1,328.8 1044.6,328.2 1044.1,327.6 1043.6,327.3 1043.1,328.3 1042.6,329.3 1042.1,330.3 1041.6,331.2 1041.1,332.2 1040.6,333.2 1040.1,334.2 1039.6,334.2 1039.1,334.2 1038.6,334.2 1038.1,334.2 1037.6,334.2 1037.1,334.2 1036.6,334.2 1036.1,333.9Z" fill="rgb(247,191,191)"/>
<path d="M88.6,304.6 89.1,303.1 89.6,308.7 90.1,314.3 90.6,319.9 L90.6,319.9 90.1,315.5 89.6,311.2 89.1,306.9 88.6,304.6ZM103.6,306.3 104.1,301.2 104.6,295.1 105.1,289.1 105.6,283.1 106.1,285.8 106.6,301.5 107.1,308.7 L107.1,308.7 106.6,308 106.1,307.4 105.6,307.1 105.1,306.9 104.6,306.7 104.1,306.5 103.6,306.3ZM131.1,314.1 131.6,310.3 132.1,304.2 132.6,299.7 133.1,297.8 133.6,295.9 134.1,294 134.6,292.1 135.1,290.2 135.6,288.3 136.1,286.4 136.6,284.5 137.1,282.6 137.6,280.7 138.1,278.7 138.6,278.7 139.1,281.6 139.6,284.4 140.1,287.2 140.6,289.4 L140.6,289.4 140.1,288.3 139.6,287.3 139.1,286.2 138.6,285.2 138.1,287.4 137.6,290.4 137.1,293.4 136.6,296.4 136.1,299.4 135.6,302.5 135.1,305.6 134.6,308.7 134.1,311.8 133.6,314.8 133.1,316.5 132.6,315.9 132.1,315.3 131.6,314.7 131.1,314.1ZM211.6,295.1 212.1,293.6 212.6,291.9 213.1,291.7 213.6,291.5 214.1,291.3 214.6,291.1 215.1,290.9 215.6,290.6 216.1,290.4 216.6,290.2 217.1,290 217.6,289.8 218.1,289.6 218.6,293.2 219.1,294.5 L219.1,294.5 218.6,294.3 218.1,294 217.6,293.8 217.1,293.5 216.6,293.3 216.1,293 215.6,292.8 215.1,292.5 214.6,292.3 214.1,292 213.6,292.5 213.1,293.2 212.6,293.8 212.1,294.5 211.6,295.1ZM246.6,296.5 247.1,296.2 247.6,293 248.1,292.3 248.6,292.3 249.1,292.3 249.6,292.3 250.1,292.3 250.6,292.3 251.1,292.3 251.6,292.3 252.1,291.4 L252.1,291.4 251.6,292.4 251.1,293.3 250.6,294.3 250.1,295.3 249.6,296.3 249.1,297.3 248.6,298.2 248.1,299.2 247.6,299.7 247.1,298.1 246.6,296.5ZM347.6,231.5 348.1,228.6 348.6,224.1 349.1,219.6 349.6,217.1 350.1,222.7 350.6,228.3 351.1,233.9 351.6,238 L351.6,238 351.1,236.3 350.6,234.7 350.1,233.1 349.6,231.4 349.1,229.8 348.6,229.2 348.1,230.4 347.6,231.5ZM474.6,185 475.1,181 475.6,179.4 476.1,178.6 476.6,177.8 477.1,177.1 477.6,175.9 478.1,174.2 478.6,172.5 479.1,170.8 479.6,169.1 480.1,167.4 480.6,165.6 481.1,163.9 481.6,162.1 482.1,160.4 482.6,158.6 483.1,156.9 483.6,154.1 484.1,150.7 484.6,147.3 485.1,143.9 485.6,140.5 486.1,138.2 486.6,137.7 487.1,137.2 487.6,136.7 488.1,136.2 488.6,135.7 489.1,135.2 489.6,136.7 490.1,139.6 490.6,142.5 491.1,145.4 491.6,148.2 492.1,151.8 492.6,155.6 L492.6,155.6 492.1,156.6 491.6,157.6 491.1,158.7 490.6,159.7 490.1,160.7 489.6,161.7 489.1,162.8 488.6,163.8 488.1,164.8 487.6,166.2 487.1,167.7 486.6,169.3 486.1,170.8 485.6,172.3 485.1,173.8 484.6,175.3 484.1,176.9 483.6,178.4 483.1,179.6 482.6,180.2 482.1,180.9 481.6,181.6 481.1,182.2 480.6,182.9 480.1,183.6 479.6,184.2 479.1,184.9 478.6,185.6 478.1,186.1 477.6,185.9 477.1,185.8 476.6,185.7 476.1,185.5 475.6,185.4 475.1,185.3 474.6,185ZM508.1,162.6 508.6,160.7 509.1,157.7 509.6,154.5 510.1,151.4 510.6,148.2 511.1,145.1 511.6,141.9 512.1,138.7 512.6,135.6 513.1,132.4 513.6,131.9 514.1,131.4 514.6,130.9 515.1,130.4 515.6,129.9 516.1,129.4 516.6,130.5 517.1,138 517.6,145.5 518.1,150.2 L518.1,150.2 517.6,149.7 517.1,149.2 516.6,148.7 516.1,148.2 515.6,147.7 515.1,148.5 514.6,149.4 514.1,150.2 513.6,151 513.1,151.9 512.6,152.7 512.1,153.5 511.6,154.4 511.1,155.2 510.6,156 510.1,157.3 509.6,158.6 509.1,159.9 508.6,161.3 508.1,162.6ZM533.6,119 534.1,115.3 534.6,110.7 535.1,107.5 535.6,104.3 536.1,102.8 536.6,107.9 537.1,113 537.6,118 538.1,123.1 538.6,128.2 539.1,124.8 539.6,121.3 540.1,117.9 540.6,114.4 541.1,111 541.6,111.9 542.1,114 542.6,116 543.1,118.1 543.6,120.1 544.1,120.6 544.6,120.8 545.1,121 545.6,121.2 546.1,121.3 546.6,122.8 547.1,125.2 547.6,127.6 548.1,129.9 548.6,132.3 549.1,134.7 549.6,137 550.1,134.7 550.6,131.1 551.1,127.5 551.6,124 552.1,120.4 552.6,128.3 553.1,139 553.6,136.7 L553.6,136.7 553.1,139.2 552.6,141.7 552.1,144.2 551.6,146.7 551.1,146.7 550.6,144.9 550.1,143.2 549.6,141.4 549.1,139.7 548.6,137.9 548.1,136.2 547.6,135 547.1,134 546.6,133 546.1,132 545.6,131 545.1,130 544.6,129 544.1,130 543.6,131 543.1,132 542.6,133 542.1,133.9 541.6,134.9 541.1,135.9 540.6,136.9 540.1,136.9 539.6,135.3 539.1,133.7 538.6,132.1 538.1,130.5 537.6,129 537.1,127.4 536.6,125.8 536.1,124.2 535.6,123.1 535.1,122.1 534.6,121 534.1,120 533.6,119ZM565.1,118.6 565.6,116.1 566.1,113.4 566.6,113.5 567.1,113.6 567.6,113.7 568.1,113.8 568.6,114.1 569.1,114.9 569.6,115.6 570.1,116.4 570.6,117.2 571.1,118 571.6,118.8 572.1,120.6 572.6,123.9 573.1,127.1 573.6,130.4 574.1,125.7 574.6,120.9 575.1,116.2 575.6,111.4 576.1,106.7 576.6,106.3 577.1,107 577.6,107.8 578.1,108.5 578.6,109.3 579.1,110 579.6,110.8 580.1,115.7 580.6,120.7 581.1,125.6 581.6,130.6 582.1,131.3 L582.1,131.3 581.6,132.8 581.1,134.3 580.6,135.9 580.1,137.4 579.6,138.9 579.1,138.6 578.6,138.3 578.1,138.1 577.6,137.8 577.1,137.5 576.6,137.2 576.1,136.9 575.6,136.6 575.1,136.3 574.6,136.1 574.1,135.8 573.6,135.5 573.1,134.4 572.6,133.2 572.1,132.1 571.6,131 571.1,129.8 570.6,128.7 570.1,127.5 569.6,126.2 569.1,124.9 568.6,123.6 568.1,122.3 567.6,121 567.1,119.7 566.6,118.4 566.1,117.1 565.6,117.6 565.1,118.6ZM589.6,119.6 590.1,119.4 590.6,117.6 591.1,118.6 591.6,119.6 592.1,120.2 L592.1,120.2 591.6,120.1 591.1,119.9 590.6,119.8 590.1,119.7 589.6,119.6ZM615.1,120.2 615.6,120.3 616.1,120.4 616.6,120.5 617.1,120.4 L617.1,120.4 616.6,120.7 616.1,121 615.6,120.6 615.1,120.2ZM662.6,119.1 663.1,119.2 663.6,118.6 664.1,118 664.6,117.5 665.1,116.9 665.6,116.3 666.1,115.7 666.6,115.2 667.1,114.6 667.6,113.9 L667.6,113.9 667.1,114.8 666.6,115.7 666.1,116.6 665.6,117.5 665.1,118.4 664.6,119.4 664.1,120.3 663.6,120.8 663.1,120 662.6,119.1ZM683.1,116.4 683.6,114 684.1,111.1 684.6,108.2 685.1,105.3 685.6,102.3 686.1,100.6 686.6,100.4 687.1,100.3 687.6,100.2 688.1,100.1 688.6,100 689.1,99.8 689.6,101.3 690.1,103.9 690.6,106.4 691.1,108.9 691.6,111.5 692.1,112.4 692.6,112.2 693.1,112.1 693.6,111.9 694.1,111.8 694.6,111.2 695.1,110.3 695.6,109.5 696.1,108.6 696.6,107.8 697.1,106.9 697.6,106.1 698.1,105.2 698.6,104.4 699.1,103.5 699.6,102.7 700.1,101.8 700.6,98.5 701.1,93.4 701.6,88.3 702.1,83.2 702.6,78.1 703.1,78.8 703.6,88 704.1,97.1 704.6,106.3 705.1,115.5 705.6,126.4 L705.6,126.4 705.1,126.6 704.6,125.9 704.1,125.3 703.6,124.6 703.1,123.9 702.6,123.3 702.1,122.6 701.6,121.9 701.1,121.3 700.6,120.6 700.1,120.5 699.6,121.1 699.1,121.7 698.6,122.4 698.1,123 697.6,123.6 697.1,124.3 696.6,124.9 696.1,125.5 695.6,126.2 695.1,126.8 694.6,127.4 694.1,127.4 693.6,126.3 693.1,125.2 692.6,124.1 692.1,123 691.6,121.9 691.1,120.8 690.6,119.7 690.1,118.6 689.6,117.5 689.1,116.6 688.6,116.2 688.1,115.9 687.6,115.5 687.1,115.1 686.6,114.7 686.1,114.3 685.6,113.9 685.1,113.5 684.6,114 684.1,114.8 683.6,115.6 683.1,116.4ZM723.6,131.2 724.1,126.3 724.6,123.8 725.1,125.7 725.6,127.6 726.1,129.4 726.6,131.1 L726.6,131.1 726.1,130.1 725.6,129.2 725.1,129.5 724.6,130 724.1,130.6 723.6,131.2ZM782.6,164.4 783.1,163.8 783.6,161.7 784.1,159.6 784.6,157.5 785.1,155 785.6,152.5 786.1,150 786.6,147.5 787.1,145 787.6,142.5 788.1,140.7 788.6,141.7 789.1,142.7 789.6,143.7 790.1,144.7 790.6,145.6 791.1,146.6 791.6,147.6 792.1,148.6 792.6,149.3 793.1,149.8 793.6,150.3 794.1,150.8 794.6,151.3 795.1,151.8 795.6,152.3 796.1,162.8 796.6,172.9 L796.6,172.9 796.1,171.9 795.6,170.9 795.1,169.9 794.6,168.9 794.1,167.9 793.6,167.6 793.1,167.5 792.6,167.4 792.1,167.3 791.6,167.3 791.1,167.2 790.6,167.1 790.1,167 789.6,167 789.1,167.3 788.6,167.6 788.1,167.9 787.6,168.2 787.1,168.4 786.6,168.7 786.1,169 785.6,169.3 785.1,168.9 784.6,168.2 784.1,167.6 783.6,166.9 783.1,166.3 782.6,164.4ZM865.6,207.3 866.1,207.2 866.6,207.9 867.1,209.1 L867.1,209.1 866.6,208 866.1,207.3 865.6,207.3ZM881.1,214.8 881.6,214.1 882.1,213.1 882.6,212.1 883.1,211.1 883.6,210.5 884.1,210.2 884.6,210 885.1,209.7 885.6,209.4 886.1,209.1 886.6,208.8 887.1,208.6 887.6,208.4 888.1,208.3 888.6,208.2 889.1,208.1 889.6,208 890.1,207.9 890.6,207.8 891.1,207.7 891.6,207.6 892.1,218 892.6,227.9 L892.6,227.9 892.1,227.6 891.6,227.4 891.1,227.1 890.6,226.9 890.1,226.6 889.6,226.6 889.1,226.9 888.6,227.1 888.1,227.4 887.6,227.6 887.1,227.9 886.6,228.1 886.1,227.8 885.6,226.6 885.1,225.3 884.6,224.1 884.1,222.8 883.6,221.6 883.1,220.3 882.6,219 882.1,217.6 881.6,216.2 881.1,214.8ZM920.6,254.7 921.1,253.6 921.6,254.5 L921.6,254.5 921.1,254.6 920.6,254.7ZM941.1,252.1 941.6,247.6 942.1,253.9 942.6,259.2 L942.6,259.2 942.1,256.5 941.6,253.8 941.1,252.1ZM1006.1,284.5 1006.6,281.8 1007.1,283.1 L1007.1,283.1 1006.6,282.8 1006.1,284.5ZM1025.6,288.1 1026.1,288.2 1026.6,286.6 1027.1,290 1027.6,293.4 1028.1,294.4 L1028.1,294.4 1027.6,293.9 1027.1,292.6 1026.6,291.1 1026.1,289.6 1025.6,288.1Z" fill="rgb(238,120,120)"/>
<path d="M78.6,329.4 79.1,329.3 79.6,329.3 80.1,329.2 80.6,329.2 81.1,329.1 81.6,330.7 82.1,332.4 82.6,334 83.1,335.7 83.6,334.7 84.1,333.1 84.6,331.4 85.1,329.8 85.6,328.8 86.1,330.5 86.6,332.1 L86.6,332.1 86.1,333.8 85.6,338.1 85.1,339.1 84.6,340.1 84.1,341 83.6,342 83.1,343 82.6,344 82.1,345 81.6,346 81.1,347 80.6,348 80.1,343.8 79.6,339.5 79.1,335.2 78.6,331ZM107.6,336.8 108.1,336.5 108.6,336.2 109.1,337.7 109.6,339.2 110.1,340.7 110.6,342.2 111.1,343.6 111.6,345.1 112.1,346.6 112.6,348.1 113.1,348.9 113.6,348.6 114.1,348.3 114.6,347.9 115.1,347.6 115.6,347.3 116.1,347 116.6,346.7 117.1,346.4 117.6,346.2 118.1,346 118.6,345.8 119.1,345.6 119.6,345.4 120.1,345.2 120.6,345 121.1,344.8 121.6,344.9 122.1,345.4 122.6,345.9 123.1,346.4 123.6,346.9 124.1,347.4 124.6,347.9 125.1,348.7 125.6,349.7 126.1,350.8 L126.1,350.8 125.6,349.8 125.1,349.1 124.6,348.3 124.1,347.6 123.6,347.4 123.1,347.5 122.6,347.6 122.1,347.7 121.6,351.7 121.1,355.8 120.6,359.8 120.1,362.3 119.6,362.4 119.1,362.6 118.6,362.7 118.1,362.9 117.6,363 117.1,364 116.6,365.1 116.1,366.1 115.6,367.5 115.1,369.5 114.6,371.6 114.1,373.6 113.6,372.7 113.1,371 112.6,366.9 112.1,362.7 111.6,358.6 111.1,354.4 110.6,350.3 110.1,347.2 109.6,344.9 109.1,342.5 108.6,340.2 108.1,337.9 107.6,336.8ZM153.6,337.2 154.1,336.7 154.6,336.2 155.1,335.7 L155.1,335.7 154.6,336.4 154.1,337.3 153.6,337.2ZM158.1,332.6 158.6,331.9 159.1,331.3 159.6,330.7 160.1,330.1 160.6,329.5 161.1,328.8 161.6,329.7 162.1,331.5 162.6,333.2 163.1,335 L163.1,335 162.6,334.6 162.1,339.1 161.6,343.7 161.1,345.5 160.6,343.2 160.1,341 159.6,338.7 159.1,336.5 158.6,334.2 158.1,332.6ZM175.6,326.8 176.1,325.6 176.6,324.3 177.1,325.3 177.6,326.3 178.1,327.3 178.6,328.3 179.1,329.3 179.6,330.3 180.1,331.1 180.6,330.8 181.1,330.6 181.6,330.3 182.1,330.1 L182.1,330.1 181.6,331 181.1,332.4 180.6,333.7 180.1,335.1 179.6,334.5 179.1,333.4 178.6,332.3 178.1,331.1 177.6,330 177.1,328.9 176.6,327.8 176.1,326.7 175.6,326.8ZM226.6,313.6 227.1,313.5 227.6,313.9 228.1,314.3 228.6,314.6 229.1,315 229.6,315.4 230.1,315.7 230.6,315.6 231.1,315.3 231.6,315 232.1,314.7 232.6,314.4 L232.6,314.4 232.1,315.8 231.6,318.8 231.1,321.8 230.6,320.8 230.1,319.8 229.6,318.8 229.1,317.8 228.6,316.8 228.1,315.8 227.6,314.8 227.1,313.6 226.6,313.6ZM237.6,311.7 238.1,311.5 238.6,311.2 239.1,311 239.6,310.7 240.1,311.2 240.6,311.7 241.1,312.2 241.6,312.6 242.1,313.1 242.6,313.6 243.1,314.1 243.6,314.6 244.1,315.2 L244.1,315.2 243.6,317.5 243.1,320.2 242.6,322.9 242.1,321.3 241.6,319.6 241.1,318 240.6,316.4 240.1,314.7 239.6,313.9 239.1,313.3 238.6,312.7 238.1,312.1 237.6,311.7ZM256.6,305 257.1,304.2 257.6,303.4 258.1,302.6 258.6,301.9 259.1,302.4 259.6,303.3 260.1,304.2 260.6,305.1 261.1,305.9 261.6,306.8 262.1,307.7 262.6,308.6 263.1,309.2 263.6,308.7 264.1,308.2 264.6,307.7 265.1,307.2 265.6,306.7 266.1,306.2 L266.1,306.2 265.6,306.9 265.1,310.6 264.6,314.4 264.1,318.1 263.6,321.9 263.1,325.6 262.6,329.4 262.1,333.1 261.6,330.4 261.1,327.6 260.6,324.9 260.1,322.2 259.6,319.4 259.1,316.7 258.6,313.9 258.1,311.2 257.6,308.5 257.1,305.7 256.6,305ZM270.1,306.7 270.6,306.8 271.1,307.5 271.6,308.2 272.1,308.9 272.6,309.5 273.1,310.2 273.6,310.9 274.1,311.6 274.6,312.3 275.1,312.4 275.6,311.5 276.1,310.6 276.6,309.7 277.1,308.9 277.6,308 278.1,307.1 278.6,305.7 279.1,303.8 279.6,301.9 280.1,300 280.6,298.1 281.1,296.3 281.6,294.4 282.1,295 282.6,296.3 283.1,297.5 283.6,298.8 284.1,300 L284.1,300 283.6,300.1 283.1,302.5 282.6,304.9 282.1,307.4 281.6,310 281.1,313.5 280.6,316.9 280.1,320.4 279.6,323.9 279.1,327.3 278.6,330.8 278.1,334.2 277.6,337.7 277.1,337.1 276.6,333.7 276.1,330.3 275.6,326.9 275.1,323.5 274.6,320.2 274.1,316.8 273.6,315.1 273.1,313.9 272.6,312.6 272.1,311.4 271.6,310.1 271.1,308.9 270.6,307.6 270.1,306.7ZM294.1,300.6 294.6,302.1 295.1,303.6 295.6,305.1 296.1,306.6 296.6,308.1 297.1,309.6 297.6,311.1 298.1,312.6 298.6,314.1 299.1,315.6 299.6,317.1 300.1,318.6 300.6,318.1 301.1,314.6 301.6,311.1 302.1,307.6 302.6,304.1 303.1,300.6 303.6,297.1 304.1,295.8 304.6,295.9 305.1,296 305.6,296.1 306.1,296.2 306.6,296.3 307.1,296.4 307.6,296.5 308.1,296.5 308.6,295.8 309.1,295.1 309.6,294.5 310.1,293.8 310.6,293.1 311.1,292.5 311.6,291.8 312.1,291.1 312.6,290.5 313.1,289.8 313.6,290.3 314.1,290.8 314.6,291.2 L314.6,291.2 314.1,290.9 313.6,291.6 313.1,292.2 312.6,292.8 312.1,294.2 311.6,296.6 311.1,299.1 310.6,301.5 310.1,303.9 309.6,306 309.1,306.5 308.6,307 308.1,307.5 307.6,308 307.1,308.5 306.6,309 306.1,309.5 305.6,310 305.1,310.5 304.6,311 304.1,313.7 303.6,316.5 303.1,319.2 302.6,322 302.1,324.7 301.6,327.4 301.1,330.2 300.6,332.9 300.1,332.4 299.6,329.8 299.1,327.2 298.6,324.6 298.1,321.9 297.6,319.3 297.1,316.7 296.6,314.1 296.1,311.4 295.6,308.8 295.1,306.2 294.6,303.6 294.1,300.6ZM316.6,291.2 317.1,290.6 317.6,290 318.1,289.3 318.6,288.7 319.1,288.1 319.6,286.2 320.1,284.3 320.6,282.5 321.1,280.6 321.6,278.7 322.1,280.9 L322.1,280.9 321.6,282.2 321.1,285.1 320.6,288 320.1,290.8 319.6,293.7 319.1,296.6 318.6,295.5 318.1,294.3 317.6,293.2 317.1,292.1 316.6,291.2ZM332.6,294.8 333.1,294.6 333.6,294.2 334.1,293.8 334.6,293.4 335.1,293 335.6,292.6 336.1,292.1 336.6,291.7 337.1,290.6 337.6,288.5 338.1,286.4 L338.1,286.4 337.6,288.6 337.1,290.9 336.6,293.3 336.1,295.7 335.6,295.6 335.1,295.5 334.6,295.3 334.1,295.2 333.6,295.1 333.1,295 332.6,294.8ZM338.6,284.2 339.1,282.1 339.6,280 340.1,277.9 340.6,276.9 341.1,276.6 L341.1,276.6 340.6,278 340.1,279.5 339.6,280.9 339.1,282.4 338.6,284.2ZM357.1,270.1 357.6,269.6 358.1,268.6 358.6,267.6 359.1,266.6 359.6,265.7 360.1,264.7 360.6,263.7 361.1,262.7 361.6,261.7 362.1,262.5 362.6,263.3 363.1,264.1 363.6,264.9 364.1,265.7 364.6,266.4 365.1,267.2 365.6,268 366.1,268.4 366.6,268 367.1,267.7 367.6,267.4 368.1,267 368.6,266.7 369.1,266.4 369.6,266 370.1,265.7 370.6,265.4 371.1,265.3 371.6,266.3 372.1,267.3 372.6,268.3 373.1,269.3 373.6,270.3 374.1,271.3 374.6,272.2 375.1,273.1 375.6,273.9 376.1,274.7 376.6,275.6 377.1,276.4 377.6,277.2 378.1,278.1 378.6,278.9 379.1,279.7 379.6,280 380.1,278 380.6,276 381.1,274 381.6,272 382.1,270 382.6,268 383.1,266.7 383.6,266.4 384.1,266.2 384.6,265.9 L384.6,265.9 384.1,267.6 383.6,270.1 383.1,272.6 382.6,275.1 382.1,277.6 381.6,280.1 381.1,282.2 380.6,283 380.1,283.8 379.6,284.5 379.1,285.2 378.6,286 378.1,286.8 377.6,288.6 377.1,292.1 376.6,295.6 376.1,299.1 375.6,302.6 375.1,306.1 374.6,309.6 374.1,308.7 373.6,304.9 373.1,301.1 372.6,297.2 372.1,293.4 371.6,289.6 371.1,285.8 370.6,284.2 370.1,283.2 369.6,282.2 369.1,281.2 368.6,280.2 368.1,279.2 367.6,282.9 367.1,287.8 366.6,292.6 366.1,297.5 365.6,302.4 365.1,307.3 364.6,312.1 364.1,317 363.6,315.4 363.1,312.2 362.6,308.9 362.1,305.7 361.6,302.3 361.1,299 360.6,295.7 360.1,292.3 359.6,289 359.1,285.7 358.6,281.6 358.1,277.4 357.6,273.1 357.1,270.1ZM404.1,277.2 404.6,274.2 405.1,271.2 405.6,268.1 406.1,265.1 406.6,262.1 407.1,261.1 L407.1,261.1 406.6,262.9 406.1,266.5 405.6,270.1 405.1,273.7 404.6,277.3 404.1,277.2ZM410.6,263.2 411.1,264 411.6,264.7 412.1,265.5 412.6,266.2 413.1,266.9 413.6,267.7 414.1,263 414.6,258.2 415.1,253.5 415.6,251.5 416.1,251.3 416.6,251.1 417.1,251 417.6,250.8 418.1,249.9 418.6,247.8 419.1,245.8 419.6,243.8 420.1,241.7 420.6,240.4 421.1,240 421.6,239.7 422.1,239.4 422.6,239.1 423.1,238.5 423.6,237 424.1,235.5 424.6,233.9 425.1,232.4 425.6,231.1 426.1,230.7 426.6,230.3 427.1,229.8 427.6,229.4 428.1,229 428.6,228.6 429.1,228.1 429.6,227.7 430.1,227.3 430.6,226.9 431.1,226.4 431.6,226.3 432.1,227.2 432.6,228.1 433.1,229 433.6,229.9 434.1,230.8 434.6,231.7 435.1,232.6 435.6,233.5 436.1,234.6 436.6,235.8 437.1,237 437.6,238.2 438.1,239.4 438.6,240.6 439.1,241.8 439.6,243 440.1,243.7 440.6,242.7 441.1,241.7 441.6,240.7 442.1,239.6 442.6,238.6 443.1,237.6 443.6,236.6 444.1,235.6 444.6,234.8 445.1,234.1 445.6,233.4 446.1,232.7 446.6,232 447.1,231.3 447.6,230.6 448.1,229.9 448.6,229.2 449.1,228.5 449.6,227.8 450.1,228.3 450.6,228.8 451.1,229.3 451.6,229.8 452.1,230.3 452.6,230.7 453.1,231 453.6,231.2 454.1,231.5 454.6,231.7 455.1,232 455.6,232.5 456.1,233.1 456.6,233.8 457.1,234.4 457.6,235 458.1,235.3 458.6,234.1 459.1,232.9 459.6,231.8 460.1,230.6 L460.1,230.6 459.6,233.1 459.1,236 458.6,238.6 458.1,239.9 457.6,241.2 457.1,242.6 456.6,243.9 456.1,241.8 455.6,239.7 455.1,237.5 454.6,235.4 454.1,233.3 453.6,231.9 453.1,231.8 452.6,231.6 452.1,231.4 451.6,231.3 451.1,231.1 450.6,230.9 450.1,230.8 449.6,230.6 449.1,234.3 448.6,237.9 448.1,241.6 447.6,245.3 447.1,249 446.6,252.9 446.1,256.7 445.6,260.5 445.1,264.3 444.6,264.6 444.1,264.8 443.6,265.1 443.1,265.3 442.6,265.6 442.1,265.8 441.6,266.2 441.1,267.1 440.6,267.9 440.1,268.8 439.6,269.7 439.1,270.6 438.6,271.5 438.1,272.2 437.6,272.6 437.1,272.9 436.6,273.3 436.1,273.7 435.6,274.1 435.1,274.5 434.6,274.9 434.1,275.3 433.6,274 433.1,272.2 432.6,270.5 432.1,268.7 431.6,267 431.1,265.2 430.6,263.5 430.1,261.7 429.6,260 429.1,258.2 428.6,261.1 428.1,267 427.6,273 427.1,279 426.6,284.9 426.1,285.8 425.6,283.2 425.1,280.6 424.6,278 424.1,275.5 423.6,272.9 423.1,270.3 422.6,267.8 422.1,265.2 421.6,265.7 421.1,266.2 420.6,266.7 420.1,267.2 419.6,267.7 419.1,268.2 418.6,268.7 418.1,269.2 417.6,269.4 417.1,269.4 416.6,269.4 416.1,269.4 415.6,269.4 415.1,269.4 414.6,269.4 414.1,268.8 413.6,268.1 413.1,267.3 412.6,266.6 412.1,265.8 411.6,265.1 411.1,264.3 410.6,263.2ZM497.1,204.9 497.6,205.2 498.1,205.5 498.6,205.8 499.1,206.1 499.6,206.4 500.1,206.7 500.6,207 501.1,207.2 L501.1,207.2 500.6,211.7 500.1,219 499.6,226.3 499.1,223.2 498.6,217.5 498.1,211.8 497.6,206 497.1,204.9ZM554.1,163.5 554.6,162.7 555.1,161.9 555.6,161.1 556.1,160.4 556.6,159.6 557.1,158.8 557.6,158 558.1,157.3 558.6,157.6 559.1,158.1 559.6,158.7 L559.6,158.7 559.1,168 558.6,177.5 558.1,187.1 557.6,196.6 557.1,194.6 556.6,189.7 556.1,184.9 555.6,180 555.1,173 554.6,166 554.1,163.5ZM599.1,152.6 599.6,152 600.1,151.3 600.6,150.7 601.1,150.7 601.6,151.1 602.1,151.5 602.6,151.9 603.1,152.3 603.6,152.6 604.1,153 604.6,153.8 605.1,154.7 605.6,155.5 606.1,156.4 606.6,157.3 607.1,158.1 607.6,159 608.1,158.3 608.6,157.6 609.1,156.9 609.6,156.3 L609.6,156.3 609.1,157 608.6,160.1 608.1,163.8 607.6,167.6 607.1,171.5 606.6,175.4 606.1,179.2 605.6,183.1 605.1,187 604.6,190.8 604.1,192.9 603.6,188.1 603.1,183.2 602.6,178.3 602.1,173.4 601.6,168.6 601.1,163.7 600.6,158.8 600.1,154 599.6,152.2 599.1,152.6ZM620.1,145.6 620.6,145.3 621.1,145 621.6,144.8 622.1,144.5 622.6,144.3 623.1,144 623.6,143.8 624.1,142.4 624.6,140.2 625.1,138 625.6,135.8 626.1,133.6 626.6,134 627.1,136.1 627.6,138.2 628.1,140.3 628.6,142.4 629.1,144.2 629.6,145.3 630.1,146.4 630.6,147.6 631.1,148.7 631.6,149.8 632.1,150.9 632.6,151.2 633.1,150.9 633.6,150.6 634.1,150.3 634.6,150 635.1,149.7 635.6,149.4 636.1,149 636.6,148.8 637.1,148.7 637.6,148.6 638.1,148.5 638.6,148.4 639.1,148.3 639.6,148.2 640.1,148.1 640.6,148 L640.6,148 640.1,149.3 639.6,151.9 639.1,154.7 638.6,157.5 638.1,160.3 637.6,163 637.1,165.8 636.6,168.6 636.1,171.4 635.6,174.2 635.1,176.9 634.6,177.4 634.1,174.4 633.6,171.4 633.1,168.4 632.6,169.9 632.1,171.4 631.6,172.9 631.1,174.4 630.6,175.9 630.1,177.4 629.6,178.9 629.1,180.4 628.6,181.9 628.1,183.4 627.6,184.9 627.1,186.4 626.6,187.9 626.1,187.5 625.6,184.4 625.1,181.2 624.6,178 624.1,174.9 623.6,171.7 623.1,168.5 622.6,165.4 622.1,162.2 621.6,159 621.1,155.1 620.6,148 620.1,145.6ZM706.1,147.7 706.6,148.4 707.1,149.2 707.6,149.9 708.1,150.3 708.6,149.4 709.1,148.5 709.6,147.6 710.1,146.7 710.6,145.8 711.1,144.9 711.6,144 712.1,143.1 712.6,142.7 713.1,142.5 713.6,142.3 714.1,142.1 714.6,142 715.1,141.8 715.6,141.6 716.1,141.4 716.6,141.3 717.1,141.8 717.6,142.3 718.1,142.8 718.6,143.3 719.1,143.8 719.6,144.3 720.1,144.8 L720.1,144.8 719.6,145.2 719.1,149 718.6,152.8 718.1,156.6 717.6,160.4 717.1,164.2 716.6,167 716.1,169.5 715.6,172 715.1,174.5 714.6,177 714.1,179.5 713.6,181.6 713.1,183.6 712.6,185.6 712.1,187.5 711.6,189.5 711.1,191.5 710.6,193.5 710.1,190 709.6,185.2 709.1,180.4 708.6,175.5 708.1,170.7 707.6,165.9 707.1,161 706.6,156.2 706.1,147.7ZM720.1,144.8 720.6,145.3 721.1,145.8 721.6,146.3 722.1,146.8 722.6,147.3 723.1,147.8 L723.1,147.8 722.6,153.2 722.1,162.2 721.6,167.8 721.1,159.8 720.6,151.8 720.1,144.8ZM728.1,151 728.6,151.3 729.1,151.5 729.6,151.8 730.1,152 730.6,152.2 731.1,152.5 731.6,152.7 732.1,153 732.6,153.2 733.1,153.8 733.6,154.7 734.1,155.7 734.6,156.6 735.1,157.5 735.6,158.4 736.1,159.3 736.6,160.2 737.1,161 737.6,161.5 738.1,162 738.6,162.5 739.1,163 739.6,163.5 740.1,164 740.6,164.5 741.1,165 741.6,165.4 742.1,165.6 742.6,165.9 743.1,166.2 743.6,166.4 744.1,166.7 744.6,166.9 745.1,168.9 745.6,171.3 746.1,173.8 746.6,176.2 747.1,178.6 747.6,180.6 748.1,181 748.6,181.5 749.1,181.9 749.6,182.3 750.1,182.8 750.6,183.2 751.1,183.7 751.6,183.8 752.1,182.7 752.6,181.6 753.1,180.6 753.6,179.5 754.1,178.4 754.6,177.4 755.1,176.3 755.6,175.2 L755.6,175.2 755.1,180.7 754.6,182.5 754.1,183.1 753.6,183.6 753.1,184.2 752.6,184.8 752.1,185.4 751.6,186 751.1,186.8 750.6,187.7 750.1,188.5 749.6,189.4 749.1,190.3 748.6,191.1 748.1,192 747.6,196 747.1,199.9 746.6,203.9 746.1,207.8 745.6,211.8 745.1,215.7 744.6,219.7 744.1,223.6 743.6,223.4 743.1,217 742.6,210.6 742.1,204.1 741.6,197.7 741.1,191.3 740.6,188 740.1,185.5 739.6,182.9 739.1,180.4 738.6,179.4 738.1,184.5 737.6,189.6 737.1,194.7 736.6,199.8 736.1,203.9 735.6,203.9 735.1,203.9 734.6,203.9 734.1,203.9 733.6,203.9 733.1,203.9 732.6,202.3 732.1,198.1 731.6,194 731.1,189.9 730.6,185.8 730.1,177.9 729.6,169.1 729.1,160.2 728.6,151.3 728.1,151ZM759.6,177.6 760.1,177.9 760.6,178.3 761.1,179.3 761.6,180.8 762.1,182.3 762.6,183.8 763.1,185.3 763.6,186.8 764.1,188.3 764.6,188.8 765.1,189.1 765.6,189.4 766.1,189.7 766.6,190.1 767.1,190.4 767.6,190.7 768.1,191 768.6,191 769.1,190.3 769.6,189.5 770.1,188.8 770.6,188 771.1,187.3 771.6,186.5 L771.6,186.5 771.1,187.9 770.6,191.2 770.1,194.5 769.6,197.7 769.1,201 768.6,204.2 768.1,207.5 767.6,210.7 767.1,214 766.6,217.2 766.1,220.5 765.6,219 765.1,214.4 764.6,209.8 764.1,205.1 763.6,200.5 763.1,195.9 762.6,191.2 762.1,189.8 761.6,189.1 761.1,188.5 760.6,185.9 760.1,180.4 759.6,177.6ZM797.1,200.2 797.6,199.2 798.1,198.2 798.6,199.3 799.1,200.9 799.6,202.5 800.1,204.1 800.6,205.8 801.1,207.4 801.6,209 802.1,210.3 802.6,211.6 803.1,212.9 803.6,214.2 804.1,215.5 804.6,215.4 805.1,214.9 805.6,214.4 806.1,213.9 806.6,213.4 807.1,215.1 807.6,217.4 808.1,219.7 808.6,222 809.1,224.3 809.6,224 810.1,222 810.6,220 811.1,218 811.6,216 812.1,214 812.6,212 813.1,212 813.6,212.5 814.1,213 814.6,213.5 815.1,214 815.6,214.5 816.1,215 816.6,215.6 817.1,216.2 817.6,216.8 818.1,217.4 818.6,218 819.1,218.6 819.6,219.3 820.1,219.9 820.6,219.6 821.1,218.7 821.6,217.8 822.1,216.9 822.6,216 823.1,215.2 823.6,214.3 824.1,213.5 L824.1,213.5 823.6,214.5 823.1,216.5 822.6,218.5 822.1,220.5 821.6,222.5 821.1,224.5 820.6,226.6 820.1,228.6 819.6,230.6 819.1,232.6 818.6,234.7 818.1,236.7 817.6,236.9 817.1,234.6 816.6,232.2 816.1,229.8 815.6,227.4 815.1,225 814.6,222.6 814.1,220.2 813.6,217.9 813.1,215.5 812.6,216.5 812.1,218.4 811.6,220.3 811.1,222.2 810.6,224.1 810.1,226 809.6,228.4 809.1,230.8 808.6,233.1 808.1,235.5 807.6,237.9 807.1,236.9 806.6,235.9 806.1,235 805.6,234 805.1,233 804.6,235.6 804.1,239.1 803.6,242.6 803.1,246.1 802.6,249.6 802.1,253.1 801.6,256.6 801.1,249.5 800.6,242.3 800.1,235.2 799.6,228 799.1,220.9 798.6,213.7 798.1,206.6 797.6,199.5 797.1,200.2ZM849.1,220.3 849.6,220.4 850.1,220.5 850.6,220.6 851.1,220.7 851.6,220.9 852.1,221.3 852.6,221.9 853.1,222.6 853.6,223.3 854.1,223.9 854.6,224.6 L854.6,224.6 854.1,224.6 853.6,226 853.1,227.4 852.6,228.8 852.1,230.2 851.6,230.3 851.1,228.2 850.6,226.2 850.1,224.2 849.6,222.1 849.1,220.3ZM893.1,249.6 893.6,250.9 894.1,251.8 894.6,252 L894.6,252 894.1,252.4 893.6,254.1 893.1,249.6ZM902.1,262.2 902.6,262.8 903.1,263.5 903.6,264.2 904.1,263.7 904.6,263 905.1,262.3 905.6,261.6 906.1,260.9 906.6,260.2 907.1,259.5 907.6,259.4 908.1,259.5 908.6,259.5 909.1,259.6 L909.1,259.6 908.6,259.9 908.1,260.2 907.6,260.5 907.1,260.9 906.6,261.2 906.1,261.5 905.6,263.5 905.1,265.5 904.6,267.6 904.1,269.6 903.6,271.6 903.1,272 902.6,266.1 902.1,262.2ZM910.1,259.7 910.6,259.7 911.1,261.2 L911.1,261.2 910.6,260.1 910.1,259.7ZM915.6,269.5 916.1,270.2 916.6,270.9 L916.6,270.9 916.1,270.2 915.6,269.5ZM955.6,303.6 956.1,303.2 956.6,302.9 957.1,302.5 957.6,302.1 958.1,301.8 958.6,301.4 959.1,301 959.6,301.5 960.1,302 960.6,302.5 961.1,303 961.6,303.5 962.1,303.3 962.6,302.6 963.1,302 963.6,301.3 964.1,300.6 964.6,300.3 965.1,301.5 965.6,302.6 966.1,303.7 966.6,304.8 967.1,305.9 967.6,307.1 968.1,308.2 968.6,309.3 969.1,310.4 969.6,311.6 970.1,312.7 970.6,313.8 971.1,314.9 971.6,316.1 972.1,315.6 972.6,314.8 973.1,314 973.6,313.1 974.1,312.3 974.6,311.8 975.1,311.9 975.6,312 976.1,312.1 976.6,312.2 977.1,312.3 977.6,312.4 978.1,312.5 978.6,312.6 979.1,313.1 979.6,314.2 980.1,315.3 980.6,316.4 981.1,317.5 981.6,318.6 982.1,319.7 982.6,320.8 983.1,321.9 983.6,322.6 984.1,322.4 984.6,322.3 985.1,322.2 985.6,322.1 986.1,321.9 986.6,321.8 987.1,322.1 987.6,324.1 988.1,326.1 L988.1,326.1 987.6,325.2 987.1,326.6 986.6,328 986.1,329.4 985.6,330.8 985.1,332.2 984.6,333.6 984.1,335 983.6,336.3 983.1,337.3 982.6,338.1 982.1,338.8 981.6,339.6 981.1,340.3 980.6,341.1 980.1,341.8 979.6,341 979.1,337.8 978.6,334.6 978.1,331.5 977.6,328.3 977.1,325.1 976.6,321.9 976.1,318.7 975.6,315.5 975.1,313.8 974.6,314.3 974.1,314.8 973.6,315.3 973.1,315.8 972.6,316.3 972.1,316.8 971.6,317.9 971.1,321.1 970.6,324.3 970.1,329.1 969.6,334.3 969.1,339.5 968.6,344.7 968.1,349.8 967.6,355 967.1,351.7 966.6,348.4 966.1,345.1 965.6,341.8 965.1,339.3 964.6,337.3 964.1,335.3 963.6,333.3 963.1,331.3 962.6,329.4 962.1,327.4 961.6,325.4 961.1,323.4 960.6,321.4 960.1,319.4 959.6,317.6 959.1,315.8 958.6,314 958.1,312.2 957.6,310.4 957.1,308.6 956.6,306.8 956.1,305 955.6,303.6ZM992.6,322.3 993.1,320.6 993.6,320.8 994.1,322.3 994.6,323.8 995.1,325.3 995.6,326.8 996.1,328.2 996.6,329.4 997.1,330.5 997.6,331.7 L997.6,331.7 997.1,331.5 996.6,331.5 996.1,330 995.6,328.5 995.1,327 994.6,325.6 994.1,324.1 993.6,322.6 993.1,321.1 992.6,322.3ZM1011.6,317.9 1012.1,317.7 1012.6,317.4 1013.1,317.2 1013.6,317.4 L1013.6,317.4 1013.1,320.8 1012.6,319.3 1012.1,317.8 1011.6,317.9ZM1032.6,330.9 1033.1,331.6 1033.6,332 1034.1,332.4 1034.6,332.8 1035.1,333.1 1035.6,333.5 1036.1,333.9 1036.6,334.2 L1036.6,334.2 1036.1,336.4 1035.6,339.2 1035.1,341.9 1034.6,343.4 1034.1,339.6 1033.6,335.9 1033.1,332.1 1032.6,330.9ZM1045.1,328.8 1045.6,329.4 1046.1,330 1046.6,330.6 1047.1,331.3 1047.6,331.3 1048.1,330.8 1048.6,330.4 1049.1,330 1049.6,329.6 1050.1,329.2 1050.6,328.8 1051.1,328.4 1051.6,328 1052.1,327.6 1052.6,327.2 1053.1,328 1053.6,329.1 1054.1,330.1 1054.6,331.2 1055.1,332.3 1055.6,333.4 1056.1,334.5 1056.6,335.6 1057.1,336.7 1057.6,337.1 1058.1,337.3 1058.6,337.5 1059.1,337.7 1059.6,337.9 1060.1,338.1 1060.6,338.3 1061.1,338.5 1061.6,338.7 1062.1,338.8 1062.6,339 1063.1,339.2 1063.6,339.3 1064.1,339.5 1064.6,339.4 1065.1,338.7 1065.6,338.1 1066.1,337.5 1066.6,336.9 1067.1,336.2 1067.6,335.6 1068.1,335.1 1068.6,334.9 1069.1,334.8 1069.6,334.7 1070.1,334.6 1070.6,334.4 1071.1,334.3 1071.6,334.3 1072.1,334.7 1072.6,335 1073.1,335.4 1073.6,335.8 1074.1,336.2 1074.6,336.6 L1074.6,346.8 1074.1,349.1 1073.6,351.3 1073.1,353.6 1072.6,355.8 1072.1,353 1071.6,350.1 1071.1,347.3 1070.6,344.5 1070.1,341.6 1069.6,338.8 1069.1,337.6 1068.6,338.7 1068.1,339.9 1067.6,341.1 1067.1,342.2 1066.6,343.4 1066.1,344.6 1065.6,346.4 1065.1,348.4 1064.6,350.4 1064.1,352.4 1063.6,354.4 1063.1,356.4 1062.6,358 1062.1,358 1061.6,358 1061.1,358 1060.6,358 1060.1,356.5 1059.6,354.7 1059.1,352.9 1058.6,351 1058.1,349.2 1057.6,347.4 1057.1,346.2 1056.6,347.6 1056.1,349 1055.6,350.3 1055.1,351.7 1054.6,349.1 1054.1,345.5 1053.6,341.9 1053.1,338.3 1052.6,334.7 1052.1,337.5 1051.6,341.9 1051.1,346.2 1050.6,350.6 1050.1,355 1049.6,359.3 1049.1,360.2 1048.6,360.2 1048.1,360.2 1047.6,360.2 1047.1,356.6 1046.6,347.6 1046.1,338.6 1045.6,329.6 1045.1,328.8Z" fill="rgb(140,174,207)"/>
<path d="M112.6,367.5 113.1,366.9 113.6,366.4 114.1,365.9 114.6,365.4 115.1,364.9 115.6,364.4 116.1,363.9 116.6,363.4 117.1,363 117.6,362.9 118.1,362.7 118.6,362.6 119.1,362.5 119.6,362.4 120.1,362.2 120.6,362.1 L120.6,362.1 120.1,362.3 119.6,362.4 119.1,362.6 118.6,362.7 118.1,362.9 117.6,363 117.1,364 116.6,365.1 116.1,366.1 115.6,367.5 115.1,369.5 114.6,371.6 114.1,373.6 113.6,372.7 113.1,371 112.6,367.5ZM276.6,336.4 277.1,336.1 277.6,335.5 278.1,334.7 L278.1,334.7 277.6,337.7 277.1,337.1 276.6,336.4ZM361.6,303.6 362.1,305.4 362.6,307.4 363.1,309.4 363.6,311.4 364.1,313.4 364.6,314.6 L364.6,314.6 364.1,317 363.6,315.4 363.1,312.2 362.6,308.9 362.1,305.7 361.6,303.6ZM372.6,297.5 373.1,299 373.6,300.6 374.1,302.1 374.6,302.6 375.1,301.7 375.6,300.8 376.1,299.9 L376.1,299.9 375.6,302.6 375.1,306.1 374.6,309.6 374.1,308.7 373.6,304.9 373.1,301.1 372.6,297.5ZM425.1,282.3 425.6,282.8 426.1,281.7 426.6,280.6 427.1,279.5 L427.1,279.5 426.6,284.9 426.1,285.8 425.6,283.2 425.1,282.3ZM603.6,189.5 604.1,191 604.6,192.5 L604.6,192.5 604.1,192.9 603.6,189.5ZM625.6,186.1 626.1,185.9 626.6,185.6 627.1,185.4 627.6,185.1 L627.6,185.1 627.1,186.4 626.6,187.9 626.1,187.5 625.6,186.1ZM630.6,176.4 631.1,174.1 631.6,171.7 632.1,169.3 632.6,169.7 633.1,171.9 L633.1,171.9 632.6,169.9 632.1,171.4 631.6,172.9 631.1,174.4 630.6,176.4ZM708.1,174.2 708.6,174.8 709.1,175.4 709.6,175.9 710.1,176.5 710.6,177 711.1,177 711.6,177 712.1,177 712.6,176.9 713.1,176.9 713.6,176.9 714.1,176.6 714.6,176 715.1,175.4 L715.1,175.4 714.6,177 714.1,179.5 713.6,181.6 713.1,183.6 712.6,185.6 712.1,187.5 711.6,189.5 711.1,191.5 710.6,193.5 710.1,190 709.6,185.2 709.1,180.4 708.6,175.5 708.1,174.2ZM730.6,186.7 731.1,187 731.6,186.7 732.1,186.4 732.6,186.1 733.1,185.8 733.6,185.5 734.1,185.2 734.6,184.9 735.1,184.6 735.6,184.4 736.1,184.1 736.6,185.2 737.1,186.6 737.6,188.1 738.1,189.6 L738.1,189.6 737.6,189.6 737.1,194.7 736.6,199.8 736.1,203.9 735.6,203.9 735.1,203.9 734.6,203.9 734.1,203.9 733.6,203.9 733.1,203.9 732.6,202.3 732.1,198.1 731.6,194 731.1,189.9 730.6,186.7ZM741.6,199.7 742.1,200.9 742.6,202.1 743.1,203.2 743.6,204.4 744.1,205.6 744.6,206.8 745.1,207.6 745.6,208.3 746.1,209 L746.1,209 745.6,211.8 745.1,215.7 744.6,219.7 744.1,223.6 743.6,223.4 743.1,217 742.6,210.6 742.1,204.1 741.6,199.7ZM764.1,209.7 764.6,209.5 765.1,209.2 765.6,209 766.1,208.8 766.6,208.6 767.1,207.4 767.6,205.7 768.1,203.9 768.6,202.2 769.1,200.4 769.6,198.6 L769.6,198.6 769.1,201 768.6,204.2 768.1,207.5 767.6,210.7 767.1,214 766.6,217.2 766.1,220.5 765.6,219 765.1,214.4 764.6,209.8 764.1,209.7ZM800.1,237.6 800.6,236.8 801.1,236.1 801.6,235.3 802.1,234.6 802.6,233.8 803.1,233.1 803.6,232.6 804.1,232.3 804.6,231.9 805.1,231.6 805.6,231.3 806.1,231.7 806.6,233.2 807.1,234.7 807.6,236.2 808.1,237.7 L808.1,237.7 807.6,237.9 807.1,236.9 806.6,235.9 806.1,235 805.6,234 805.1,233 804.6,235.6 804.1,239.1 803.6,242.6 803.1,246.1 802.6,249.6 802.1,253.1 801.6,256.6 801.1,249.5 800.6,242.3 800.1,237.6ZM965.1,339.4 965.6,340.7 966.1,342.1 966.6,343.4 967.1,344.7 967.6,346 968.1,347.2 968.6,348.4 L968.6,348.4 968.1,349.8 967.6,355 967.1,351.7 966.6,348.4 966.1,345.1 965.6,341.8 965.1,339.4ZM1046.6,354.4 1047.1,353 1047.6,352.2 1048.1,351.7 1048.6,351.2 1049.1,350.7 1049.6,350.2 1050.1,349.7 1050.6,349.2 1051.1,348.7 L1051.1,348.7 1050.6,350.6 1050.1,355 1049.6,359.3 1049.1,360.2 1048.6,360.2 1048.1,360.2 1047.6,360.2 1047.1,356.6 1046.6,354.4Z" fill="rgb(48,100,152)"/>
<path d="M78.5,405.5H1075.5M78.5,357.5H1075.5M78.5,309.5H1075.5M78.5,260.5H1075.5M78.5,212.5H1075.5M78.5,164.5H1075.5M78.5,115.5H1075.5M78.5,67.5H1075.5M163.5,60.5V445.5M240.5,60.5V445.5M325.5,60.5V445.5M407.5,60.5V445.5M492.5,60.5V445.5M574.5,60.5V445.5M659.5,60.5V445.5M744.5,60.5V445.5M826.5,60.5V445.5M911.5,60.5V445.5M993.5,60.5V445.5" stroke="#b0b0b0" stroke-opacity="0.27" stroke-width="1" fill="none"/>
<polyline points="78.6,292 80.5,299.7 84.5,293.7 87.4,300.5 89,306 92,332 94,317.5 97.6,295.4 101.8,305.6 106,307.3 109.5,311.6 113.7,315 118.8,304.8 122.2,306.5 124.8,304 129,311.6 133.3,316.7 136,300 138.5,285 143.5,295.4 149.4,288.6 152.8,298.8 157,304.8 161.3,303.9 164.7,308.2 168,303.9 171.5,292.9 175.8,303.9 180,314 184.3,302.2 188.5,300.5 192,293.7 196.2,286 198.7,295.4 203.8,298.8 207.3,303 210.7,296.3 214,292 217.5,293.7 222.6,296.3 226.8,294.6 229.4,294.6 231.9,298.8 235.3,297.1 238.7,300.5 243,292.9 246,294.6 247.7,300 252.8,290 256.2,279 258.7,277.3 262.1,272.2 264.7,275.6 269.8,270.5 274,270.5 277.4,268.8 280.8,263.7 283.4,271.3 289.3,259.4 292.7,263.7 297,271.3 300.4,268.8 302.9,273 306.3,265.4 310.6,273 314,259.4 319.1,254.3 321.6,246.7 325,256 330.1,276.4 333.5,257.7 336.9,250.9 341.2,239.9 344.6,238.2 348.8,228.8 354,245.8 357.3,240.7 360.7,241.6 365.9,232.2 369.3,217.8 374.4,234.8 380.3,245 384.6,239 390.5,220.3 393.9,223.7 398.2,231.4 401.6,224.5 406.8,222.6 410.2,213.3 415.3,223.5 419.6,215.8 423,210.7 427.2,208.2 429.8,203.9 432.3,193.7 435.7,187.8 438.3,183.5 442.5,184.4 445.1,192 448.5,199.7 451,197.1 453.6,185.2 457,202.2 459.5,193.7 462.9,191.2 467.2,195.4 470.6,181.8 474.8,185.2 478.2,186.1 483.3,179.3 488,165 492.7,155.4 496.9,163 501.2,175.8 505.4,169.8 510.5,156.2 515.6,147.7 519,151.1 524.1,139.2 527.6,132.4 530.1,136.7 533.5,118.8 536,123.9 540.3,137.5 544.6,129 548,135.8 551.4,147.7 554.8,130.7 558.2,129 561.6,125.6 566,116.8 570.2,127.8 573.6,135.5 579.6,138.9 583.8,126.1 588.1,119.3 592.3,120.2 596.6,123.6 600.8,110 604.2,126.1 608.5,120.2 611.9,117.6 616.1,121 620.4,118.5 624.6,115.9 628.9,122.7 634,128.7 639.1,110.8 643.3,124.4 647.6,119.3 651,127 656.1,121 660.3,115.1 663.7,121 668.8,111.7 672.2,117.6 677.3,118.5 680.7,120.2 685,113.4 689.3,116.8 694.3,127.8 700.3,120.2 705.4,127 710.5,112.5 714.8,116.8 719,119.3 722.5,132.5 725.5,129 729.4,136.3 731.9,135.4 735.3,131.2 740.4,141.4 744.7,137.1 748.1,149 751.5,153.3 757.4,137.1 761.7,144.8 766.8,164.3 771,172 775.3,160.9 779.5,148.2 782.9,166 785.5,169.4 789.7,166.9 794,167.7 797.4,174.5 800.8,183 804.2,174.5 807.6,189 812.7,189.8 816.9,193.2 821.2,180.5 826.3,192.4 831.4,178.8 835.6,188.1 839.9,183.9 843.3,193.2 847.6,192.4 851,198.3 856.1,191.5 859.5,194.1 862.9,207.3 866.3,207.3 870.5,216.7 874.8,205.6 879,209 882.7,219.3 886.3,228.3 889.9,226.5 893.5,228.3 897.1,219.3 901.6,213.9 905.2,233.7 907.9,225.6 911.5,235.5 915.1,252.6 917.8,255.3 922.3,254.4 925,261.5 927.7,249.9 931.3,268.7 934,270.5 937.6,265.1 941.2,251.7 944.7,270.5 948.3,259.7 951.9,252.6 954.6,263.3 958.2,259.7 961.8,264.2 966.3,284 968.1,293.8 971.7,262.4 975.3,274.1 977.1,285.7 981.6,302.8 987,292.9 990.6,282.1 994.2,292 998.7,299.2 1003.2,294.7 1006.8,282.1 1010.4,293.8 1014,283.9 1017.6,295.6 1023,280.3 1027.5,293.8 1032,298.3 1036.5,305.5 1041,293.8 1045.5,283 1050,293.8 1053.6,299.2 1058.1,287.5 1061.7,298.3 1066.2,300.1 1070.6,297.4 1075,303.7" fill="none" stroke="#ff0000" stroke-width="0.9" stroke-dasharray="2.6 1.15"/>
<polyline points="78.6,365 81,357 87,355 90,359 95,378 100,396 105,375 108,373 113,367 117,363 121,362 126,368 131,362 138,377 144,355 148,362 152,351 157,367 162,358 168,373 172,368 177,370 180,365 182,377 187,362 191,353 196,369 202,349 206,356 212,340 215,346 218,341 223,356 227,354 231,347 235,363 239,357 242.3,354.1 246.8,338.3 251.3,329.3 254.6,337.2 261.4,338.3 264.8,339.5 267,332.7 272.7,338.3 277.2,336.1 282.8,327.1 288.4,329.3 292.9,331.6 298.6,337.2 303.1,329.3 309.8,321.4 314.3,323.7 318.8,320.3 324.5,322.6 327.8,325.9 333.5,315.8 336.8,320.3 343.6,316.9 347,310.2 352.6,307.9 354.9,311.3 357.6,300 360,298 362,305 364.5,315 367,305 371.2,293.2 374.4,303 377.6,297.2 380.8,295.6 383.6,298 386.4,301.2 389.6,294.8 392.8,298.8 396,290.8 399.2,306 401,310.2 404.4,315.8 407.8,305.7 411.1,298.3 412.8,289.8 417.9,273.7 421.3,275.4 425.5,283 429.8,273.7 433.2,281.3 437.4,284.7 440,294.1 442.5,280.5 445.9,283.9 450.2,276.2 454.4,260.9 457.8,266 462.1,280.5 467.2,255.8 469.7,260.9 474.8,250.7 480.8,246.5 484.2,258.4 489.3,255.8 494.4,233.7 496.9,230.3 500.3,231.2 502.9,241.4 507.1,246.5 510.5,248.2 513.9,255 518.2,244.8 522.4,238.8 526.7,245.6 530.1,226.1 532.4,231.6 535.4,226.8 538.4,234.6 543.8,223.8 546.8,231 549.8,219.6 553.4,209.4 555.2,205.8 558.2,205.2 561.8,198 564.2,200.4 566,204.6 569.6,203.4 572,204 574.4,212.4 577.4,208.2 579.2,192.6 581.6,198 584.6,184.8 587,198 588.8,205.2 592.4,202.8 595.4,180.6 599.1,170.9 602.5,186.2 605.9,196.4 609.3,187.9 614.4,176.9 618.7,170.1 621.2,164.1 625.5,186.2 628.9,184.5 632.3,168.4 634.8,179.4 640,176 644.2,178.6 646.7,184.5 650.1,181.1 654.4,174.3 656.9,170.9 660.3,189.6 663.7,166.7 668.8,161.6 672.2,165 674.8,182.8 679,183.7 682.4,172.6 685.9,167.5 689.3,166.7 692.7,184.5 696.1,181.1 699.5,196.4 702.9,199.8 707.1,173 710.5,177 713.9,176.9 717.3,172.6 720.7,176.9 725.1,183.5 731.1,187 736.2,184 741.3,199 744.7,207 748.9,213 754.9,200 758.3,195 760.8,199.7 763.4,210 766.8,208.5 771,193.7 775.3,211.6 779.5,225.2 784.6,240.5 788,238.8 792.3,227.7 795.7,215.8 799.9,237.9 803.3,232.8 805.9,231.1 809.3,241.3 814.4,248.1 818.6,256.6 822,239.6 825.4,232.8 828.8,230.3 831.4,244.7 833.9,256.6 837.3,246.4 840.7,239.6 842.8,241.2 847,251 850.5,246.8 854,246.8 856.1,248.9 858.2,263.6 861.7,264.3 863.8,288.8 866.6,279 869.4,267.1 871.5,276.2 874.3,274.8 877.1,280.4 880.6,287.4 884.8,284.6 888.3,278.3 891.8,269.9 893.9,276.2 896,294.4 899.8,306.4 905.2,320.8 908.8,311.8 913.3,296.5 917.8,303.7 921.4,317.2 926.8,322.6 930.4,319.9 933.1,327.1 936.7,314.5 940.3,313.6 943.8,310.9 948.3,328 952.8,336 957.3,328.8 960.4,321.3 962.8,331.7 965.2,339.7 967.6,346 970,351.7 973.2,346.9 978,346.9 981.3,357.3 984.5,359.7 988.5,357.3 992.5,356.5 994.9,363.7 998,369 1001.4,371.5 1004.1,351.3 1007.7,359.4 1012.2,337.8 1015.8,351.3 1020.3,352.2 1023.9,363 1028.4,354 1032,361.2 1036.5,364.7 1038.5,359.1 1044,361.3 1047.3,352.5 1051.7,348.1 1057.2,355.8 1060.5,365.7 1063.8,360.2 1070.4,358 1075,359" fill="none" stroke="#add8e6" stroke-width="1.4" stroke-dasharray="5.1 2.2"/>
<polyline points="78.6,329.4 81.1,329.1 83.2,336 85.5,328.5 89.9,343 95,353.6 99.3,346.4 103.2,338.3 106.1,337.6 108.6,336.2 112.9,349 117.1,346.4 121.4,344.7 124.8,348.1 127.3,353.2 130.7,344.7 135.8,337.9 139.2,326 141.8,326.9 143.5,335.4 146,337.1 149.4,343 153.7,337.1 157.9,332.8 161.3,328.6 163.9,337.9 167.3,338.8 170.7,338.8 173.2,332.8 176.6,324.3 180,331.1 183.4,329.4 186.8,328.6 191.1,337.1 195.3,320.1 198.7,323.5 202.1,321.8 205.6,321.8 209,319.2 212.4,312.4 215.8,319.2 218.3,309.9 220.9,314.1 223.4,319.2 226.8,313.3 230.2,315.8 234.5,313.3 239.6,310.7 243.4,314.4 247.7,319.5 252.8,311 258.7,301.7 263,309.3 266.4,305.9 270.6,306.8 274.9,312.7 278.3,306.8 281.7,294 285.1,302.5 289.3,303.4 291.9,294 295.3,304.2 300.4,319.5 303.8,295.7 308,296.6 313.1,289.8 315.7,292.3 319.1,288.1 321.6,278.7 325,294 328.4,291.5 332.7,294.9 336.9,291.5 340.3,277 343.7,275.3 347.1,279.6 350.5,268.5 357.3,270.2 361.6,261.7 365.9,268.5 371,265.1 374.4,271.9 379.5,280.4 382.9,266.8 386.3,265.1 389.7,270.2 393.9,266.8 397.3,265.1 400.5,272.5 403.8,279 406.8,260.9 410.2,262.6 413.6,267.7 415.3,251.6 417.9,250.7 420.4,240.5 423,238.8 425.5,231.2 431.5,226.1 435.7,233.7 440,243.9 444.2,235.4 449.6,227.8 452.4,230.6 455.2,232 458,235.5 460.1,230.6 462.2,220.1 464.3,223.6 467.1,230.6 469.9,232.7 472.7,223.6 476.2,217.3 479.1,209 483.3,209.9 489.3,188.6 491.8,203.1 494.4,211.6 496.9,204.8 501.2,207.3 506.3,203.9 509.7,209 513.9,218.4 517.3,213.3 519.9,199.7 522.4,200.5 525.9,191.2 530.1,181 534.4,187.8 537.8,186.1 541.2,195.4 545.4,191.2 548.8,181.8 552.2,166.4 558.2,157.1 560.7,160 562.6,174.3 565.1,159.9 569.4,154.8 573.6,156.5 577.9,158.2 582.1,164.1 585.5,159 588.9,161.6 593.2,175.2 596.6,155.6 600.8,150.5 604.2,153.1 607.6,159 611.9,153.1 616.1,148 620.4,145.4 623.8,143.7 626.3,132.7 628.9,143.7 632.3,151.4 636.5,148.8 640.8,148 645,143.7 649.3,137.8 652.7,147.1 656.1,153.1 659.5,157.3 662.9,151.4 667.1,147.1 670.5,143.7 674.8,136.1 678.2,154.8 682.4,138.6 685.9,136.1 689.3,140.3 693.5,157.3 696.9,152.2 700.3,153.1 704.6,145.4 708,150.5 712.2,142.9 716.5,141.2 720.7,145.4 724.1,148.8 728,151 732.8,153.3 737,160.9 741.3,165.2 744.7,167 747.5,180.5 751.5,184 755.7,175 760.8,178.4 764.2,188.6 768.5,191.2 771.9,186.1 776.1,182.7 778.7,188.6 782.1,198.8 785.5,194.6 789.7,191.2 793.1,205.6 795.7,203.1 798.2,198 801.6,209 804.2,215.8 806.7,213.3 809.3,225.2 812.7,211.6 816.1,215 820.3,220.1 823.7,214.1 828,207.3 831.4,215.8 833.9,203.9 837.3,211.6 840.7,210.7 844.1,215.8 848.4,220.1 851.8,220.9 854.4,224.3 857.8,228.6 861.2,243 864.5,236.3 869.4,232.1 874.3,243.3 877.8,240.5 882,248.2 884.8,251 889,248.9 891.8,246.1 893.9,251.7 897.4,253.1 899.5,254.5 901.6,261.5 903.7,264.3 907.2,259.4 910.6,259.7 912.4,265 916.9,271.3 920.5,277.6 924.1,292 927.7,293.8 931.3,305.5 933.1,306.4 935.8,293.8 940.3,287.5 943.8,282.1 947.4,290.2 951.9,298.3 955.5,303.7 959.1,301 961.8,303.7 964.5,300.1 968.1,308.2 971.7,316.3 974.4,311.8 978.9,312.7 983.4,322.6 987,321.7 989.7,332.4 993.3,319.9 996,328 998.7,334.2 1002.3,324.4 1005.9,312.7 1009.5,319 1013.1,317.2 1016.7,319 1021.2,323.5 1025.7,319.9 1029.3,324.4 1032.9,331.5 1036.5,334.2 1040.1,334.2 1043.7,327.1 1047.3,331.5 1052.7,327.1 1057.2,336.9 1061.7,338.7 1064.4,339.6 1068,335.1 1071.5,334.2 1075,336.9" fill="none" stroke="#000" stroke-width="3.0" stroke-linejoin="round"/>
<polyline points="78.6,331 80.6,348 83.1,343 85.7,337.9 89.1,303.1 91.6,331.1 94.5,344.5 97.5,335.5 100.3,310.5 102.7,318 105.9,279.5 107.7,336 110.4,348.6 113.1,371 114,374 115.8,366.7 117.6,363 120.3,362.2 122.1,347.7 123.9,347.3 127.3,352.4 129,342.2 132.4,300.5 138.4,277.6 143.5,306.5 149.4,290.3 153.7,337.9 157.9,331.1 161.3,346.4 165.6,307.3 169.8,337.9 175.8,326 180,335.4 183.4,326 186.8,324.3 190.2,303.1 192.8,320.1 197.9,306.5 201.3,313.3 204.7,299.7 207.3,306.5 209.8,305.6 212.4,292 218.3,289.5 220,310.7 225.1,309 227.7,315 231.1,321.8 234.5,301.4 237,310.7 240,314.4 242.6,322.9 245.1,309.3 247.7,292.3 252.8,292.3 256.2,300.8 262.1,333.1 267.2,294.9 270.6,307.6 274,316.1 277.4,339.1 281.7,309.3 285.9,288.9 289.3,279.6 291.9,279.6 294.4,302.5 300.4,334 304.6,311 309.7,305.9 312.3,293.2 315.7,288.9 319.1,296.6 322.5,277 325,279.6 328.4,288.9 332.7,294.9 336.1,295.7 338.6,283.8 342,274 345.5,252 349.5,216 352,244 355,254 357,268 359,285 362,305 364,318 368,279 371,285 374.4,311 377.8,287.2 381.2,282.1 385.4,261.1 390.5,223.7 393.9,261.1 397.3,255.2 401.6,244.1 404.5,278 407.7,255 411.1,264.3 414.5,269.4 417.9,269.4 422.1,265.2 426.4,287.3 428.9,257.5 434,275.4 438.3,272 441.7,266 445.1,264.3 447.5,246 449.6,230.6 453.8,232 456.6,243.9 458.7,238.3 461.5,222.2 464.3,204.7 467.8,211 470.6,215.9 473.1,200 475.2,180 477.4,176.6 479.9,168.1 483.3,156.2 485.9,138.4 489.3,135 491.8,149.4 494.4,169.8 495.5,182 499.5,227.8 502,191.2 505.4,178.3 508.8,159.6 513.1,132.4 516.5,129 518.2,154.5 519.9,178.3 521.6,193.7 525.9,176.6 531,149.4 534.4,112 536,101.8 538.6,128.2 541.2,110.3 543.7,120.5 546.3,121.4 549.7,137.5 552.2,119.7 553.9,156.2 555.6,180 557.5,198.5 560.7,137.5 562.6,136.3 566,113.4 568.5,113.9 571.9,119.3 573.6,130.4 576.2,105.7 579.6,110.8 582.1,135.5 585.5,135.5 590.6,117.6 594,124.4 596.6,146.5 600,153 604.2,193.9 608.5,160.7 611,145.4 615.3,120.2 618.7,121 621.2,156.5 626.3,188.8 629.7,178.6 633.1,168.4 634.8,178.6 640,149.7 644.2,132.9 648.4,128.7 651.8,130.4 654.4,126.1 656.9,128.7 660.3,122.7 663.7,118.5 667.1,114.6 669.7,115.1 673.1,126.1 674.5,132.5 676.5,133 678.6,127 682.4,121 685.9,100.6 689.3,99.8 691.8,112.5 694.3,111.7 700.3,101.5 702.9,75.1 705.4,121 706.3,153.3 710.5,193.9 714,180 717,165 720,142.2 721.7,169.4 724.3,122.7 727.7,135.4 730.5,185 732.8,203.9 736.2,203.9 738.7,178.4 741,190 743.8,226 748.1,192 751.5,186.1 755,182 757.4,150.7 760.8,188.1 762.5,190.3 765.9,221.8 771,188.6 772.7,176.2 776.1,173.7 779.5,178.8 784.6,157.5 788,140.5 792.3,149 795.7,152.4 797.4,196.6 801.6,256.6 805,232.8 807.6,237.9 810.1,226 813,215 817.8,237.9 822,220.9 826,205 831.4,191.2 837.3,194.6 845.9,203.1 849.3,220.9 851.8,231.1 855,222 858.6,203.1 862,220.9 866.3,206.5 869.7,221.8 874.8,206.5 878.2,220.9 883.3,210.7 887.2,208.5 891.7,207.6 893.5,254.4 897.1,242.7 899.8,239.1 901.6,254.4 903.2,273.2 906.1,261.5 910,259 914,266 916.5,271 918.5,262 921.4,252.6 924.5,290 928,292 931,300 934,296 936,289 940.3,279.4 941.5,246.3 944,278 945.6,282.1 949.2,284.8 951.9,285.7 955.5,302.8 960,319 965.4,340.5 967.6,355 970.5,325 971.7,317.2 975.3,313.6 979.8,342.3 983.4,336.9 987.9,324.4 992.4,319 996.9,332.4 1004.1,301 1006.8,280.3 1009.5,310 1013.1,320.8 1015.8,300.1 1020.3,307.3 1026.6,286.6 1031.1,317.2 1034.7,344.1 1038.3,324.4 1041.8,319.5 1045.1,320.6 1047.3,360.2 1049.5,360.2 1052.5,334 1055,352 1057.2,345.9 1060.5,358 1062.7,358 1066,344.8 1069.3,337.1 1072.6,355.8 1075,345" fill="none" stroke="#000" stroke-width="1.2" stroke-linejoin="round"/>
<rect x="78.5" y="60.5" width="997.0" height="385.0" fill="none" stroke="#000" stroke-width="1.1"/>
<path d="M73.6,405.5H78.5M73.6,357.5H78.5M73.6,309.5H78.5M73.6,260.5H78.5M73.6,212.5H78.5M73.6,164.5H78.5M73.6,115.5H78.5M73.6,67.5H78.5M78.5,445.5V450.4M163.5,445.5V450.4M240.5,445.5V450.4M325.5,445.5V450.4M407.5,445.5V450.4M492.5,445.5V450.4M574.5,445.5V450.4M659.5,445.5V450.4M744.5,445.5V450.4M826.5,445.5V450.4M911.5,445.5V450.4M993.5,445.5V450.4" stroke="#000" stroke-width="1.1"/>
<text x="336.37" y="31.8" font-family="Liberation Sans, sans-serif" font-size="26.17" fill="#2b6ca6" textLength="480.50" lengthAdjust="spacingAndGlyphs">Temperatura Media diaria - Valsequillo</text>
<text x="49.44" y="54.6" font-family="Liberation Sans, sans-serif" font-size="17.66" fill="#000" textLength="18.07" lengthAdjust="spacingAndGlyphs">°C</text>
<text x="82.32" y="54.6" font-family="Liberation Sans, sans-serif" font-size="17.66" fill="#000" textLength="211.23" lengthAdjust="spacingAndGlyphs">Última temp: 2025-12-30</text>
<text x="89.80" y="84.0" font-family="Liberation Sans, sans-serif" font-size="22.68" fill="#2b6ca6" textLength="238.61" lengthAdjust="spacingAndGlyphs">WWW.EMBALSES.NET</text>
<text x="57.49" y="413" font-family="Liberation Sans, sans-serif" font-size="19.45" fill="#000" textLength="10.85" lengthAdjust="spacingAndGlyphs">0</text>
<text x="57.72" y="364.7" font-family="Liberation Sans, sans-serif" font-size="19.45" fill="#000" textLength="10.24" lengthAdjust="spacingAndGlyphs">5</text>
<text x="45.74" y="316.4" font-family="Liberation Sans, sans-serif" font-size="19.45" fill="#000" textLength="22.62" lengthAdjust="spacingAndGlyphs">10</text>
<text x="45.77" y="268.1" font-family="Liberation Sans, sans-serif" font-size="19.45" fill="#000" textLength="22.26" lengthAdjust="spacingAndGlyphs">15</text>
<text x="45.58" y="219.8" font-family="Liberation Sans, sans-serif" font-size="19.45" fill="#000" textLength="22.79" lengthAdjust="spacingAndGlyphs">20</text>
<text x="45.60" y="171.5" font-family="Liberation Sans, sans-serif" font-size="19.45" fill="#000" textLength="22.43" lengthAdjust="spacingAndGlyphs">25</text>
<text x="45.90" y="123.2" font-family="Liberation Sans, sans-serif" font-size="19.45" fill="#000" textLength="22.46" lengthAdjust="spacingAndGlyphs">30</text>
<text x="45.91" y="74.9" font-family="Liberation Sans, sans-serif" font-size="19.45" fill="#000" textLength="22.11" lengthAdjust="spacingAndGlyphs">35</text>
<text x="63.47" y="469.2" font-family="Liberation Sans, sans-serif" font-size="17.27" fill="#000" textLength="30.35" lengthAdjust="spacingAndGlyphs">Ene</text>
<text x="148.84" y="469.2" font-family="Liberation Sans, sans-serif" font-size="17.27" fill="#000" textLength="29.37" lengthAdjust="spacingAndGlyphs">Feb</text>
<text x="224.95" y="469.2" font-family="Liberation Sans, sans-serif" font-size="17.27" fill="#000" textLength="30.92" lengthAdjust="spacingAndGlyphs">Mar</text>
<text x="311.10" y="469.2" font-family="Liberation Sans, sans-serif" font-size="17.27" fill="#000" textLength="28.41" lengthAdjust="spacingAndGlyphs">Abr</text>
<text x="390.59" y="469.2" font-family="Liberation Sans, sans-serif" font-size="17.27" fill="#000" textLength="33.08" lengthAdjust="spacingAndGlyphs">May</text>
<text x="478.36" y="469.2" font-family="Liberation Sans, sans-serif" font-size="17.27" fill="#000" textLength="26.24" lengthAdjust="spacingAndGlyphs">Jun</text>
<text x="563.43" y="469.2" font-family="Liberation Sans, sans-serif" font-size="17.27" fill="#000" textLength="20.29" lengthAdjust="spacingAndGlyphs">Jul</text>
<text x="643.63" y="469.2" font-family="Liberation Sans, sans-serif" font-size="17.27" fill="#000" textLength="31.22" lengthAdjust="spacingAndGlyphs">Ago</text>
<text x="729.12" y="469.2" font-family="Liberation Sans, sans-serif" font-size="17.27" fill="#000" textLength="30.24" lengthAdjust="spacingAndGlyphs">Sep</text>
<text x="812.32" y="469.2" font-family="Liberation Sans, sans-serif" font-size="17.27" fill="#000" textLength="27.86" lengthAdjust="spacingAndGlyphs">Oct</text>
<text x="895.51" y="469.2" font-family="Liberation Sans, sans-serif" font-size="17.27" fill="#000" textLength="31.23" lengthAdjust="spacingAndGlyphs">Nov</text>
<text x="980.57" y="469.2" font-family="Liberation Sans, sans-serif" font-size="17.27" fill="#000" textLength="25.33" lengthAdjust="spacingAndGlyphs">Dic</text>
<rect x="186" y="476.5" width="782" height="40" rx="3" fill="#fff" fill-opacity="0.8" stroke="#cccccc" stroke-width="1.1"/>
<line x1="192.3" y1="491.4" x2="224.6" y2="491.4" stroke="#ff0000" stroke-width="0.9" stroke-dasharray="2.6 1.15"/>
<line x1="370.4" y1="491.4" x2="403.6" y2="491.4" stroke="#add8e6" stroke-width="1.4" stroke-dasharray="5.1 2.2"/>
<line x1="538.8" y1="491.3" x2="571.3" y2="491.3" stroke="#000" stroke-width="3.5" stroke-linecap="square"/>
<line x1="799.3" y1="491.3" x2="832.7" y2="491.3" stroke="#000" stroke-width="1.3"/>
<text x="238.37" y="496.9" font-family="Liberation Sans, sans-serif" font-size="17.13" fill="#000" textLength="98.62" lengthAdjust="spacingAndGlyphs">Percentil 95</text>
<text x="416.58" y="496.9" font-family="Liberation Sans, sans-serif" font-size="17.13" fill="#000" textLength="87.39" lengthAdjust="spacingAndGlyphs">Percentil 5</text>
<text x="584.09" y="496.9" font-family="Liberation Sans, sans-serif" font-size="17.13" fill="#000" textLength="180.01" lengthAdjust="spacingAndGlyphs">Temperatura Mediana</text>
<text x="845.79" y="496.9" font-family="Liberation Sans, sans-serif" font-size="17.13" fill="#000" textLength="116.37" lengthAdjust="spacingAndGlyphs">T. Media 2025</text>
</svg>
</body></html>
